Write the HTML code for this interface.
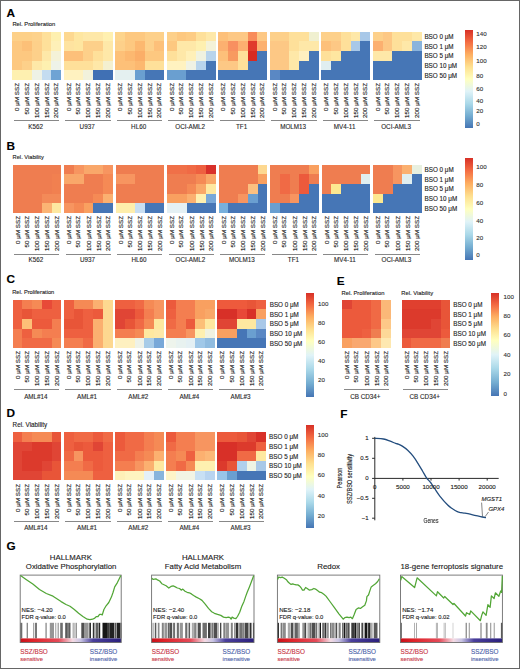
<!DOCTYPE html>
<html><head><meta charset="utf-8"><style>
html,body{margin:0;padding:0;background:#fff}
#root{position:relative;width:520px;height:669px;overflow:hidden;background:#fff;font-family:"Liberation Sans", sans-serif}
.t{position:absolute;white-space:nowrap;-webkit-text-stroke:0.12px currentColor}
.v{position:absolute;right:0;top:0;white-space:nowrap;transform-origin:100% 0;transform:rotate(-90deg);color:#222;-webkit-text-stroke:0.12px currentColor}
.vc{position:absolute;left:0;top:0;white-space:nowrap;transform:translate(-50%,-50%) rotate(-90deg) scaleX(0.8);color:#222;-webkit-text-stroke:0.15px currentColor}
i{display:block}
</style></head><body><div id="root">
<div class="t" style="left:6.40px;top:6.51px;font-size:11.8px;line-height:12px;font-weight:bold;color:#000">A</div>
<div class="t" style="left:12.40px;top:21.12px;font-size:5.8px;line-height:6.96px;color:#222;font-weight:normal;font-style:normal;">Rel. Proliferation</div>
<div style="position:absolute;left:12.40px;top:31.70px;width:48.80px;height:48.40px;display:grid;grid-template-columns:repeat(5,1fr);grid-template-rows:repeat(5,1fr)">
<i style="background:#fdd088"></i>
<i style="background:#fdd088"></i>
<i style="background:#fdd28c"></i>
<i style="background:#fee09a"></i>
<i style="background:#fef0b0"></i>
<i style="background:#fdc880"></i>
<i style="background:#fcc078"></i>
<i style="background:#fdd08a"></i>
<i style="background:#fee09a"></i>
<i style="background:#fef0b8"></i>
<i style="background:#fdc880"></i>
<i style="background:#fdc880"></i>
<i style="background:#fdd08a"></i>
<i style="background:#fee8a8"></i>
<i style="background:#f4f2d8"></i>
<i style="background:#fdc880"></i>
<i style="background:#fdd08a"></i>
<i style="background:#fee8a8"></i>
<i style="background:#fef0b0"></i>
<i style="background:#eef2e8"></i>
<i style="background:#fef0b0"></i>
<i style="background:#fef0b0"></i>
<i style="background:#eef2e6"></i>
<i style="background:#c4dcf0"></i>
<i style="background:#6fa3d4"></i>
</div>
<div style="position:absolute;left:13.33px;top:83.10px;width:0;height:0"><span class="v" style="font-size:6.25px;line-height:7.5px;color:#111">0 μM SSZ</span></div>
<div style="position:absolute;left:23.09px;top:83.10px;width:0;height:0"><span class="v" style="font-size:6.25px;line-height:7.5px;color:#111">50 μM SSZ</span></div>
<div style="position:absolute;left:32.85px;top:83.10px;width:0;height:0"><span class="v" style="font-size:6.25px;line-height:7.5px;color:#111">100 μM SSZ</span></div>
<div style="position:absolute;left:42.61px;top:83.10px;width:0;height:0"><span class="v" style="font-size:6.25px;line-height:7.5px;color:#111">150 μM SSZ</span></div>
<div style="position:absolute;left:52.37px;top:83.10px;width:0;height:0"><span class="v" style="font-size:6.25px;line-height:7.5px;color:#111">200 μM SSZ</span></div>
<div style="position:absolute;left:13.90px;top:120.30px;width:45.30px;height:1px;background:#888"></div>
<div class="t" style="left:-164.40px;width:400px;text-align:center;top:122.92px;font-size:6.3px;line-height:7.56px;color:#2a2a2a;font-weight:normal;font-style:normal;">K562</div>
<div style="position:absolute;left:63.90px;top:31.70px;width:48.80px;height:48.40px;display:grid;grid-template-columns:repeat(5,1fr);grid-template-rows:repeat(5,1fr)">
<i style="background:#fdd890"></i>
<i style="background:#fee6a0"></i>
<i style="background:#fee8a8"></i>
<i style="background:#fee8a8"></i>
<i style="background:#fff0b0"></i>
<i style="background:#fee3a0"></i>
<i style="background:#fee6a0"></i>
<i style="background:#fdd08a"></i>
<i style="background:#fdd08a"></i>
<i style="background:#fee8a8"></i>
<i style="background:#fdc07a"></i>
<i style="background:#fdc07a"></i>
<i style="background:#fdd08a"></i>
<i style="background:#fee09a"></i>
<i style="background:#fee8a8"></i>
<i style="background:#fee09a"></i>
<i style="background:#fee09a"></i>
<i style="background:#fee09a"></i>
<i style="background:#fee8a8"></i>
<i style="background:#f4f0d0"></i>
<i style="background:#fff2c0"></i>
<i style="background:#fff2c0"></i>
<i style="background:#f2f2dc"></i>
<i style="background:#4070b4"></i>
<i style="background:#4070b4"></i>
</div>
<div style="position:absolute;left:64.83px;top:83.10px;width:0;height:0"><span class="v" style="font-size:6.25px;line-height:7.5px;color:#111">0 μM SSZ</span></div>
<div style="position:absolute;left:74.59px;top:83.10px;width:0;height:0"><span class="v" style="font-size:6.25px;line-height:7.5px;color:#111">50 μM SSZ</span></div>
<div style="position:absolute;left:84.35px;top:83.10px;width:0;height:0"><span class="v" style="font-size:6.25px;line-height:7.5px;color:#111">100 μM SSZ</span></div>
<div style="position:absolute;left:94.11px;top:83.10px;width:0;height:0"><span class="v" style="font-size:6.25px;line-height:7.5px;color:#111">150 μM SSZ</span></div>
<div style="position:absolute;left:103.87px;top:83.10px;width:0;height:0"><span class="v" style="font-size:6.25px;line-height:7.5px;color:#111">200 μM SSZ</span></div>
<div style="position:absolute;left:65.40px;top:120.30px;width:45.30px;height:1px;background:#888"></div>
<div class="t" style="left:-112.90px;width:400px;text-align:center;top:122.92px;font-size:6.3px;line-height:7.56px;color:#2a2a2a;font-weight:normal;font-style:normal;">U937</div>
<div style="position:absolute;left:115.40px;top:31.70px;width:48.80px;height:48.40px;display:grid;grid-template-columns:repeat(5,1fr);grid-template-rows:repeat(5,1fr)">
<i style="background:#fdd48c"></i>
<i style="background:#fdc880"></i>
<i style="background:#fdc880"></i>
<i style="background:#fdd08a"></i>
<i style="background:#fdd08a"></i>
<i style="background:#fdd08a"></i>
<i style="background:#fdc880"></i>
<i style="background:#fcb870"></i>
<i style="background:#fdd08a"></i>
<i style="background:#fdc07a"></i>
<i style="background:#fdc078"></i>
<i style="background:#fcb870"></i>
<i style="background:#fbae68"></i>
<i style="background:#fdc880"></i>
<i style="background:#fdc880"></i>
<i style="background:#fdc078"></i>
<i style="background:#fdc078"></i>
<i style="background:#fcb870"></i>
<i style="background:#fee09a"></i>
<i style="background:#fee09a"></i>
<i style="background:#e4f0f0"></i>
<i style="background:#e4f0f0"></i>
<i style="background:#6a9fd0"></i>
<i style="background:#4676b6"></i>
<i style="background:#4676b6"></i>
</div>
<div style="position:absolute;left:116.33px;top:83.10px;width:0;height:0"><span class="v" style="font-size:6.25px;line-height:7.5px;color:#111">0 μM SSZ</span></div>
<div style="position:absolute;left:126.09px;top:83.10px;width:0;height:0"><span class="v" style="font-size:6.25px;line-height:7.5px;color:#111">50 μM SSZ</span></div>
<div style="position:absolute;left:135.85px;top:83.10px;width:0;height:0"><span class="v" style="font-size:6.25px;line-height:7.5px;color:#111">100 μM SSZ</span></div>
<div style="position:absolute;left:145.61px;top:83.10px;width:0;height:0"><span class="v" style="font-size:6.25px;line-height:7.5px;color:#111">150 μM SSZ</span></div>
<div style="position:absolute;left:155.37px;top:83.10px;width:0;height:0"><span class="v" style="font-size:6.25px;line-height:7.5px;color:#111">200 μM SSZ</span></div>
<div style="position:absolute;left:116.90px;top:120.30px;width:45.30px;height:1px;background:#888"></div>
<div class="t" style="left:-61.40px;width:400px;text-align:center;top:122.92px;font-size:6.3px;line-height:7.56px;color:#2a2a2a;font-weight:normal;font-style:normal;">HL60</div>
<div style="position:absolute;left:166.90px;top:31.70px;width:48.80px;height:48.40px;display:grid;grid-template-columns:repeat(5,1fr);grid-template-rows:repeat(5,1fr)">
<i style="background:#fdd08a"></i>
<i style="background:#fdc880"></i>
<i style="background:#fdcc84"></i>
<i style="background:#fee09a"></i>
<i style="background:#fee8a8"></i>
<i style="background:#fdc880"></i>
<i style="background:#fee8a8"></i>
<i style="background:#fee8a8"></i>
<i style="background:#fef0b0"></i>
<i style="background:#f4f2d8"></i>
<i style="background:#fee09a"></i>
<i style="background:#fee8a8"></i>
<i style="background:#fff0b8"></i>
<i style="background:#f0f2e0"></i>
<i style="background:#b8d4ec"></i>
<i style="background:#fff2c0"></i>
<i style="background:#fff2c0"></i>
<i style="background:#f0f2e4"></i>
<i style="background:#b8d4ec"></i>
<i style="background:#4676b6"></i>
<i style="background:#6a9fd0"></i>
<i style="background:#6a9fd0"></i>
<i style="background:#4676b6"></i>
<i style="background:#4676b6"></i>
<i style="background:#4676b6"></i>
</div>
<div style="position:absolute;left:167.83px;top:83.10px;width:0;height:0"><span class="v" style="font-size:6.25px;line-height:7.5px;color:#111">0 μM SSZ</span></div>
<div style="position:absolute;left:177.59px;top:83.10px;width:0;height:0"><span class="v" style="font-size:6.25px;line-height:7.5px;color:#111">50 μM SSZ</span></div>
<div style="position:absolute;left:187.35px;top:83.10px;width:0;height:0"><span class="v" style="font-size:6.25px;line-height:7.5px;color:#111">100 μM SSZ</span></div>
<div style="position:absolute;left:197.11px;top:83.10px;width:0;height:0"><span class="v" style="font-size:6.25px;line-height:7.5px;color:#111">150 μM SSZ</span></div>
<div style="position:absolute;left:206.87px;top:83.10px;width:0;height:0"><span class="v" style="font-size:6.25px;line-height:7.5px;color:#111">200 μM SSZ</span></div>
<div style="position:absolute;left:168.40px;top:120.30px;width:45.30px;height:1px;background:#888"></div>
<div class="t" style="left:-9.90px;width:400px;text-align:center;top:122.92px;font-size:6.3px;line-height:7.56px;color:#2a2a2a;font-weight:normal;font-style:normal;">OCI-AML2</div>
<div style="position:absolute;left:218.40px;top:31.70px;width:48.80px;height:48.40px;display:grid;grid-template-columns:repeat(5,1fr);grid-template-rows:repeat(5,1fr)">
<i style="background:#fdc07a"></i>
<i style="background:#fdc885"></i>
<i style="background:#fdc885"></i>
<i style="background:#f88c5a"></i>
<i style="background:#fdc885"></i>
<i style="background:#fcb070"></i>
<i style="background:#f89060"></i>
<i style="background:#fdb070"></i>
<i style="background:#e03a2c"></i>
<i style="background:#fcb070"></i>
<i style="background:#fdc07a"></i>
<i style="background:#f89a60"></i>
<i style="background:#fee09a"></i>
<i style="background:#d82a20"></i>
<i style="background:#4676b6"></i>
<i style="background:#fdc885"></i>
<i style="background:#fdc885"></i>
<i style="background:#fee09a"></i>
<i style="background:#4676b6"></i>
<i style="background:#4676b6"></i>
<i style="background:#4676b6"></i>
<i style="background:#4676b6"></i>
<i style="background:#4676b6"></i>
<i style="background:#4676b6"></i>
<i style="background:#4676b6"></i>
</div>
<div style="position:absolute;left:219.33px;top:83.10px;width:0;height:0"><span class="v" style="font-size:6.25px;line-height:7.5px;color:#111">0 μM SSZ</span></div>
<div style="position:absolute;left:229.09px;top:83.10px;width:0;height:0"><span class="v" style="font-size:6.25px;line-height:7.5px;color:#111">50 μM SSZ</span></div>
<div style="position:absolute;left:238.85px;top:83.10px;width:0;height:0"><span class="v" style="font-size:6.25px;line-height:7.5px;color:#111">100 μM SSZ</span></div>
<div style="position:absolute;left:248.61px;top:83.10px;width:0;height:0"><span class="v" style="font-size:6.25px;line-height:7.5px;color:#111">150 μM SSZ</span></div>
<div style="position:absolute;left:258.37px;top:83.10px;width:0;height:0"><span class="v" style="font-size:6.25px;line-height:7.5px;color:#111">200 μM SSZ</span></div>
<div style="position:absolute;left:219.90px;top:120.30px;width:45.30px;height:1px;background:#888"></div>
<div class="t" style="left:41.60px;width:400px;text-align:center;top:122.92px;font-size:6.3px;line-height:7.56px;color:#2a2a2a;font-weight:normal;font-style:normal;">TF1</div>
<div style="position:absolute;left:269.90px;top:31.70px;width:48.80px;height:48.40px;display:grid;grid-template-columns:repeat(5,1fr);grid-template-rows:repeat(5,1fr)">
<i style="background:#fdd08a"></i>
<i style="background:#fdd08a"></i>
<i style="background:#fee09a"></i>
<i style="background:#fee09a"></i>
<i style="background:#f0f0d0"></i>
<i style="background:#fdc885"></i>
<i style="background:#fdc885"></i>
<i style="background:#fee09a"></i>
<i style="background:#fee8a8"></i>
<i style="background:#fee8a8"></i>
<i style="background:#fdc885"></i>
<i style="background:#fdc885"></i>
<i style="background:#fee8a8"></i>
<i style="background:#fff0c0"></i>
<i style="background:#4676b6"></i>
<i style="background:#fdc885"></i>
<i style="background:#fdc885"></i>
<i style="background:#fee8a8"></i>
<i style="background:#4676b6"></i>
<i style="background:#4676b6"></i>
<i style="background:#5a88c4"></i>
<i style="background:#4676b6"></i>
<i style="background:#4676b6"></i>
<i style="background:#4676b6"></i>
<i style="background:#4676b6"></i>
</div>
<div style="position:absolute;left:270.83px;top:83.10px;width:0;height:0"><span class="v" style="font-size:6.25px;line-height:7.5px;color:#111">0 μM SSZ</span></div>
<div style="position:absolute;left:280.59px;top:83.10px;width:0;height:0"><span class="v" style="font-size:6.25px;line-height:7.5px;color:#111">50 μM SSZ</span></div>
<div style="position:absolute;left:290.35px;top:83.10px;width:0;height:0"><span class="v" style="font-size:6.25px;line-height:7.5px;color:#111">100 μM SSZ</span></div>
<div style="position:absolute;left:300.11px;top:83.10px;width:0;height:0"><span class="v" style="font-size:6.25px;line-height:7.5px;color:#111">150 μM SSZ</span></div>
<div style="position:absolute;left:309.87px;top:83.10px;width:0;height:0"><span class="v" style="font-size:6.25px;line-height:7.5px;color:#111">200 μM SSZ</span></div>
<div style="position:absolute;left:271.40px;top:120.30px;width:45.30px;height:1px;background:#888"></div>
<div class="t" style="left:93.10px;width:400px;text-align:center;top:122.92px;font-size:6.3px;line-height:7.56px;color:#2a2a2a;font-weight:normal;font-style:normal;">MOLM13</div>
<div style="position:absolute;left:321.40px;top:31.70px;width:48.80px;height:48.40px;display:grid;grid-template-columns:repeat(5,1fr);grid-template-rows:repeat(5,1fr)">
<i style="background:#fdd08a"></i>
<i style="background:#fdd08a"></i>
<i style="background:#fee09a"></i>
<i style="background:#fee8a8"></i>
<i style="background:#a8c8e8"></i>
<i style="background:#fdc07a"></i>
<i style="background:#fdc885"></i>
<i style="background:#fee09a"></i>
<i style="background:#a8c8e8"></i>
<i style="background:#4676b6"></i>
<i style="background:#fee09a"></i>
<i style="background:#fee6a0"></i>
<i style="background:#4676b6"></i>
<i style="background:#4676b6"></i>
<i style="background:#4676b6"></i>
<i style="background:#e0eef0"></i>
<i style="background:#4676b6"></i>
<i style="background:#4676b6"></i>
<i style="background:#4676b6"></i>
<i style="background:#4676b6"></i>
<i style="background:#4676b6"></i>
<i style="background:#4676b6"></i>
<i style="background:#4676b6"></i>
<i style="background:#4676b6"></i>
<i style="background:#4676b6"></i>
</div>
<div style="position:absolute;left:322.33px;top:83.10px;width:0;height:0"><span class="v" style="font-size:6.25px;line-height:7.5px;color:#111">0 μM SSZ</span></div>
<div style="position:absolute;left:332.09px;top:83.10px;width:0;height:0"><span class="v" style="font-size:6.25px;line-height:7.5px;color:#111">50 μM SSZ</span></div>
<div style="position:absolute;left:341.85px;top:83.10px;width:0;height:0"><span class="v" style="font-size:6.25px;line-height:7.5px;color:#111">100 μM SSZ</span></div>
<div style="position:absolute;left:351.61px;top:83.10px;width:0;height:0"><span class="v" style="font-size:6.25px;line-height:7.5px;color:#111">150 μM SSZ</span></div>
<div style="position:absolute;left:361.37px;top:83.10px;width:0;height:0"><span class="v" style="font-size:6.25px;line-height:7.5px;color:#111">200 μM SSZ</span></div>
<div style="position:absolute;left:322.90px;top:120.30px;width:45.30px;height:1px;background:#888"></div>
<div class="t" style="left:144.60px;width:400px;text-align:center;top:122.92px;font-size:6.3px;line-height:7.56px;color:#2a2a2a;font-weight:normal;font-style:normal;">MV4-11</div>
<div style="position:absolute;left:372.90px;top:31.70px;width:48.80px;height:48.40px;display:grid;grid-template-columns:repeat(5,1fr);grid-template-rows:repeat(5,1fr)">
<i style="background:#fdd08a"></i>
<i style="background:#fdc885"></i>
<i style="background:#fee09a"></i>
<i style="background:#fee09a"></i>
<i style="background:#fee8a8"></i>
<i style="background:#fcb070"></i>
<i style="background:#fdc885"></i>
<i style="background:#fee09a"></i>
<i style="background:#fee8a8"></i>
<i style="background:#8ab4dc"></i>
<i style="background:#fee8a8"></i>
<i style="background:#fee8a8"></i>
<i style="background:#4676b6"></i>
<i style="background:#4676b6"></i>
<i style="background:#4676b6"></i>
<i style="background:#4676b6"></i>
<i style="background:#4676b6"></i>
<i style="background:#4676b6"></i>
<i style="background:#4676b6"></i>
<i style="background:#4676b6"></i>
<i style="background:#4676b6"></i>
<i style="background:#4676b6"></i>
<i style="background:#4676b6"></i>
<i style="background:#4676b6"></i>
<i style="background:#4676b6"></i>
</div>
<div style="position:absolute;left:373.83px;top:83.10px;width:0;height:0"><span class="v" style="font-size:6.25px;line-height:7.5px;color:#111">0 μM SSZ</span></div>
<div style="position:absolute;left:383.59px;top:83.10px;width:0;height:0"><span class="v" style="font-size:6.25px;line-height:7.5px;color:#111">50 μM SSZ</span></div>
<div style="position:absolute;left:393.35px;top:83.10px;width:0;height:0"><span class="v" style="font-size:6.25px;line-height:7.5px;color:#111">100 μM SSZ</span></div>
<div style="position:absolute;left:403.11px;top:83.10px;width:0;height:0"><span class="v" style="font-size:6.25px;line-height:7.5px;color:#111">150 μM SSZ</span></div>
<div style="position:absolute;left:412.87px;top:83.10px;width:0;height:0"><span class="v" style="font-size:6.25px;line-height:7.5px;color:#111">200 μM SSZ</span></div>
<div style="position:absolute;left:374.40px;top:120.30px;width:45.30px;height:1px;background:#888"></div>
<div class="t" style="left:196.10px;width:400px;text-align:center;top:122.92px;font-size:6.3px;line-height:7.56px;color:#2a2a2a;font-weight:normal;font-style:normal;">OCI-AML3</div>
<div class="t" style="left:424.40px;top:33.06px;font-size:6.3px;line-height:7.56px;color:#222;font-weight:normal;font-style:normal;">BSO 0 μM</div>
<div class="t" style="left:424.40px;top:42.74px;font-size:6.3px;line-height:7.56px;color:#222;font-weight:normal;font-style:normal;">BSO 1 μM</div>
<div class="t" style="left:424.40px;top:52.42px;font-size:6.3px;line-height:7.56px;color:#222;font-weight:normal;font-style:normal;">BSO 5 μM</div>
<div class="t" style="left:424.40px;top:62.10px;font-size:6.3px;line-height:7.56px;color:#222;font-weight:normal;font-style:normal;">BSO 10 μM</div>
<div class="t" style="left:424.40px;top:71.78px;font-size:6.3px;line-height:7.56px;color:#222;font-weight:normal;font-style:normal;">BSO 50 μM</div>
<div style="position:absolute;left:464.80px;top:29.50px;width:8.4px;height:98.10px;background:linear-gradient(#d73027,#f46d43,#fdae61,#fee090,#ffffbf,#e0f3f8,#abd9e9,#74add1,#4575b4)"></div>
<div class="t" style="left:476.30px;top:29.88px;font-size:6.2px;line-height:7.4399999999999995px;color:#333;font-weight:normal;font-style:normal;">140</div>
<div class="t" style="left:476.30px;top:43.08px;font-size:6.2px;line-height:7.4399999999999995px;color:#333;font-weight:normal;font-style:normal;">120</div>
<div class="t" style="left:476.30px;top:57.48px;font-size:6.2px;line-height:7.4399999999999995px;color:#333;font-weight:normal;font-style:normal;">100</div>
<div class="t" style="left:476.30px;top:71.58px;font-size:6.2px;line-height:7.4399999999999995px;color:#333;font-weight:normal;font-style:normal;">80</div>
<div class="t" style="left:476.30px;top:84.88px;font-size:6.2px;line-height:7.4399999999999995px;color:#333;font-weight:normal;font-style:normal;">60</div>
<div class="t" style="left:476.30px;top:96.78px;font-size:6.2px;line-height:7.4399999999999995px;color:#333;font-weight:normal;font-style:normal;">40</div>
<div class="t" style="left:476.30px;top:107.48px;font-size:6.2px;line-height:7.4399999999999995px;color:#333;font-weight:normal;font-style:normal;">20</div>
<div class="t" style="left:476.30px;top:119.98px;font-size:6.2px;line-height:7.4399999999999995px;color:#333;font-weight:normal;font-style:normal;">0</div>
<div class="t" style="left:6.60px;top:139.51px;font-size:11.8px;line-height:12px;font-weight:bold;color:#000">B</div>
<div class="t" style="left:12.60px;top:154.38px;font-size:5.7px;line-height:6.84px;color:#222;font-weight:normal;font-style:normal;">Rel. Viability</div>
<div style="position:absolute;left:12.70px;top:164.50px;width:48.80px;height:48.40px;display:grid;grid-template-columns:repeat(5,1fr);grid-template-rows:repeat(5,1fr)">
<i style="background:#ef7d50"></i>
<i style="background:#ef7d50"></i>
<i style="background:#ef7d50"></i>
<i style="background:#ef7d50"></i>
<i style="background:#ef7d50"></i>
<i style="background:#ef7d50"></i>
<i style="background:#ef7d50"></i>
<i style="background:#ef7d50"></i>
<i style="background:#ef7d50"></i>
<i style="background:#f18050"></i>
<i style="background:#ef7d50"></i>
<i style="background:#ef7d50"></i>
<i style="background:#ef7d50"></i>
<i style="background:#ef7d50"></i>
<i style="background:#f18050"></i>
<i style="background:#ef7d50"></i>
<i style="background:#ef7d50"></i>
<i style="background:#ef7d50"></i>
<i style="background:#f38a58"></i>
<i style="background:#f38a58"></i>
<i style="background:#ef7d50"></i>
<i style="background:#ef7d50"></i>
<i style="background:#ef7d50"></i>
<i style="background:#fbb474"></i>
<i style="background:#fde8a0"></i>
</div>
<div style="position:absolute;left:13.63px;top:216.00px;width:0;height:0"><span class="v" style="font-size:6.25px;line-height:7.5px;color:#111">0 μM SSZ</span></div>
<div style="position:absolute;left:23.39px;top:216.00px;width:0;height:0"><span class="v" style="font-size:6.25px;line-height:7.5px;color:#111">50 μM SSZ</span></div>
<div style="position:absolute;left:33.15px;top:216.00px;width:0;height:0"><span class="v" style="font-size:6.25px;line-height:7.5px;color:#111">100 μM SSZ</span></div>
<div style="position:absolute;left:42.91px;top:216.00px;width:0;height:0"><span class="v" style="font-size:6.25px;line-height:7.5px;color:#111">150 μM SSZ</span></div>
<div style="position:absolute;left:52.67px;top:216.00px;width:0;height:0"><span class="v" style="font-size:6.25px;line-height:7.5px;color:#111">200 μM SSZ</span></div>
<div style="position:absolute;left:14.20px;top:253.50px;width:45.30px;height:1px;background:#888"></div>
<div class="t" style="left:-164.10px;width:400px;text-align:center;top:256.22px;font-size:6.3px;line-height:7.56px;color:#2a2a2a;font-weight:normal;font-style:normal;">K562</div>
<div style="position:absolute;left:64.20px;top:164.50px;width:48.80px;height:48.40px;display:grid;grid-template-columns:repeat(5,1fr);grid-template-rows:repeat(5,1fr)">
<i style="background:#ef7d50"></i>
<i style="background:#f79560"></i>
<i style="background:#f9a76a"></i>
<i style="background:#f9a76a"></i>
<i style="background:#f79560"></i>
<i style="background:#f9a76a"></i>
<i style="background:#f9a76a"></i>
<i style="background:#ef7d50"></i>
<i style="background:#ef7d50"></i>
<i style="background:#f58a55"></i>
<i style="background:#ef7d50"></i>
<i style="background:#ef7d50"></i>
<i style="background:#ef7d50"></i>
<i style="background:#ef7d50"></i>
<i style="background:#f58a55"></i>
<i style="background:#ef7d50"></i>
<i style="background:#ef7d50"></i>
<i style="background:#ef7d50"></i>
<i style="background:#f58a55"></i>
<i style="background:#fbb070"></i>
<i style="background:#f79560"></i>
<i style="background:#f58a55"></i>
<i style="background:#f9a060"></i>
<i style="background:#4676b6"></i>
<i style="background:#4676b6"></i>
</div>
<div style="position:absolute;left:65.13px;top:216.00px;width:0;height:0"><span class="v" style="font-size:6.25px;line-height:7.5px;color:#111">0 μM SSZ</span></div>
<div style="position:absolute;left:74.89px;top:216.00px;width:0;height:0"><span class="v" style="font-size:6.25px;line-height:7.5px;color:#111">50 μM SSZ</span></div>
<div style="position:absolute;left:84.65px;top:216.00px;width:0;height:0"><span class="v" style="font-size:6.25px;line-height:7.5px;color:#111">100 μM SSZ</span></div>
<div style="position:absolute;left:94.41px;top:216.00px;width:0;height:0"><span class="v" style="font-size:6.25px;line-height:7.5px;color:#111">150 μM SSZ</span></div>
<div style="position:absolute;left:104.17px;top:216.00px;width:0;height:0"><span class="v" style="font-size:6.25px;line-height:7.5px;color:#111">200 μM SSZ</span></div>
<div style="position:absolute;left:65.70px;top:253.50px;width:45.30px;height:1px;background:#888"></div>
<div class="t" style="left:-112.60px;width:400px;text-align:center;top:256.22px;font-size:6.3px;line-height:7.56px;color:#2a2a2a;font-weight:normal;font-style:normal;">U937</div>
<div style="position:absolute;left:115.70px;top:164.50px;width:48.80px;height:48.40px;display:grid;grid-template-columns:repeat(5,1fr);grid-template-rows:repeat(5,1fr)">
<i style="background:#ef7d50"></i>
<i style="background:#ef7d50"></i>
<i style="background:#ef7d50"></i>
<i style="background:#ef7d50"></i>
<i style="background:#ef7d50"></i>
<i style="background:#f79560"></i>
<i style="background:#f79560"></i>
<i style="background:#ef7d50"></i>
<i style="background:#ef7d50"></i>
<i style="background:#ef7d50"></i>
<i style="background:#ef7d50"></i>
<i style="background:#ef7d50"></i>
<i style="background:#ef7d50"></i>
<i style="background:#ef7d50"></i>
<i style="background:#ef7d50"></i>
<i style="background:#ef7d50"></i>
<i style="background:#ef7d50"></i>
<i style="background:#ef7d50"></i>
<i style="background:#ef7d50"></i>
<i style="background:#ef7d50"></i>
<i style="background:#feeeac"></i>
<i style="background:#feeeac"></i>
<i style="background:#c8def2"></i>
<i style="background:#4676b6"></i>
<i style="background:#4676b6"></i>
</div>
<div style="position:absolute;left:116.63px;top:216.00px;width:0;height:0"><span class="v" style="font-size:6.25px;line-height:7.5px;color:#111">0 μM SSZ</span></div>
<div style="position:absolute;left:126.39px;top:216.00px;width:0;height:0"><span class="v" style="font-size:6.25px;line-height:7.5px;color:#111">50 μM SSZ</span></div>
<div style="position:absolute;left:136.15px;top:216.00px;width:0;height:0"><span class="v" style="font-size:6.25px;line-height:7.5px;color:#111">100 μM SSZ</span></div>
<div style="position:absolute;left:145.91px;top:216.00px;width:0;height:0"><span class="v" style="font-size:6.25px;line-height:7.5px;color:#111">150 μM SSZ</span></div>
<div style="position:absolute;left:155.67px;top:216.00px;width:0;height:0"><span class="v" style="font-size:6.25px;line-height:7.5px;color:#111">200 μM SSZ</span></div>
<div style="position:absolute;left:117.20px;top:253.50px;width:45.30px;height:1px;background:#888"></div>
<div class="t" style="left:-61.10px;width:400px;text-align:center;top:256.22px;font-size:6.3px;line-height:7.56px;color:#2a2a2a;font-weight:normal;font-style:normal;">HL60</div>
<div style="position:absolute;left:167.20px;top:164.50px;width:48.80px;height:48.40px;display:grid;grid-template-columns:repeat(5,1fr);grid-template-rows:repeat(5,1fr)">
<i style="background:#f07048"></i>
<i style="background:#f07048"></i>
<i style="background:#f06a45"></i>
<i style="background:#ee6040"></i>
<i style="background:#d8302a"></i>
<i style="background:#ef7d50"></i>
<i style="background:#ef7d50"></i>
<i style="background:#ef7d50"></i>
<i style="background:#f58a55"></i>
<i style="background:#f9a868"></i>
<i style="background:#ef7d50"></i>
<i style="background:#ef7d50"></i>
<i style="background:#f58a55"></i>
<i style="background:#f9a868"></i>
<i style="background:#fee8a0"></i>
<i style="background:#f9a060"></i>
<i style="background:#f9a060"></i>
<i style="background:#fbb070"></i>
<i style="background:#fef0b0"></i>
<i style="background:#78a8d8"></i>
<i style="background:#e4f0f4"></i>
<i style="background:#e4f0f4"></i>
<i style="background:#4676b6"></i>
<i style="background:#4676b6"></i>
<i style="background:#4676b6"></i>
</div>
<div style="position:absolute;left:168.13px;top:216.00px;width:0;height:0"><span class="v" style="font-size:6.25px;line-height:7.5px;color:#111">0 μM SSZ</span></div>
<div style="position:absolute;left:177.89px;top:216.00px;width:0;height:0"><span class="v" style="font-size:6.25px;line-height:7.5px;color:#111">50 μM SSZ</span></div>
<div style="position:absolute;left:187.65px;top:216.00px;width:0;height:0"><span class="v" style="font-size:6.25px;line-height:7.5px;color:#111">100 μM SSZ</span></div>
<div style="position:absolute;left:197.41px;top:216.00px;width:0;height:0"><span class="v" style="font-size:6.25px;line-height:7.5px;color:#111">150 μM SSZ</span></div>
<div style="position:absolute;left:207.17px;top:216.00px;width:0;height:0"><span class="v" style="font-size:6.25px;line-height:7.5px;color:#111">200 μM SSZ</span></div>
<div style="position:absolute;left:168.70px;top:253.50px;width:45.30px;height:1px;background:#888"></div>
<div class="t" style="left:-9.60px;width:400px;text-align:center;top:256.22px;font-size:6.3px;line-height:7.56px;color:#2a2a2a;font-weight:normal;font-style:normal;">OCI-AML2</div>
<div style="position:absolute;left:218.70px;top:164.50px;width:48.80px;height:48.40px;display:grid;grid-template-columns:repeat(5,1fr);grid-template-rows:repeat(5,1fr)">
<i style="background:#ef7d50"></i>
<i style="background:#ef7d50"></i>
<i style="background:#ef7d50"></i>
<i style="background:#ef7d50"></i>
<i style="background:#fdd890"></i>
<i style="background:#ef7d50"></i>
<i style="background:#ef7d50"></i>
<i style="background:#ef7d50"></i>
<i style="background:#ef7d50"></i>
<i style="background:#f9a060"></i>
<i style="background:#ef7d50"></i>
<i style="background:#ef7d50"></i>
<i style="background:#ef7d50"></i>
<i style="background:#fbc080"></i>
<i style="background:#4676b6"></i>
<i style="background:#ef7d50"></i>
<i style="background:#ef7d50"></i>
<i style="background:#f79560"></i>
<i style="background:#6a9fd0"></i>
<i style="background:#4676b6"></i>
<i style="background:#78b0dc"></i>
<i style="background:#4676b6"></i>
<i style="background:#4676b6"></i>
<i style="background:#4676b6"></i>
<i style="background:#4676b6"></i>
</div>
<div style="position:absolute;left:219.63px;top:216.00px;width:0;height:0"><span class="v" style="font-size:6.25px;line-height:7.5px;color:#111">0 μM SSZ</span></div>
<div style="position:absolute;left:229.39px;top:216.00px;width:0;height:0"><span class="v" style="font-size:6.25px;line-height:7.5px;color:#111">50 μM SSZ</span></div>
<div style="position:absolute;left:239.15px;top:216.00px;width:0;height:0"><span class="v" style="font-size:6.25px;line-height:7.5px;color:#111">100 μM SSZ</span></div>
<div style="position:absolute;left:248.91px;top:216.00px;width:0;height:0"><span class="v" style="font-size:6.25px;line-height:7.5px;color:#111">150 μM SSZ</span></div>
<div style="position:absolute;left:258.67px;top:216.00px;width:0;height:0"><span class="v" style="font-size:6.25px;line-height:7.5px;color:#111">200 μM SSZ</span></div>
<div style="position:absolute;left:220.20px;top:253.50px;width:45.30px;height:1px;background:#888"></div>
<div class="t" style="left:41.90px;width:400px;text-align:center;top:256.22px;font-size:6.3px;line-height:7.56px;color:#2a2a2a;font-weight:normal;font-style:normal;">MOLM13</div>
<div style="position:absolute;left:270.20px;top:164.50px;width:48.80px;height:48.40px;display:grid;grid-template-columns:repeat(5,1fr);grid-template-rows:repeat(5,1fr)">
<i style="background:#ef7d50"></i>
<i style="background:#ef7d50"></i>
<i style="background:#ef7d50"></i>
<i style="background:#ef7d50"></i>
<i style="background:#f9a060"></i>
<i style="background:#ef7d50"></i>
<i style="background:#f06a45"></i>
<i style="background:#ef7d50"></i>
<i style="background:#ec5a3c"></i>
<i style="background:#ef7d50"></i>
<i style="background:#ef7d50"></i>
<i style="background:#f06a45"></i>
<i style="background:#ef7d50"></i>
<i style="background:#ec5a3c"></i>
<i style="background:#4676b6"></i>
<i style="background:#ef7d50"></i>
<i style="background:#ef7d50"></i>
<i style="background:#f79560"></i>
<i style="background:#4676b6"></i>
<i style="background:#4676b6"></i>
<i style="background:#6a9fd0"></i>
<i style="background:#4676b6"></i>
<i style="background:#4676b6"></i>
<i style="background:#4676b6"></i>
<i style="background:#4676b6"></i>
</div>
<div style="position:absolute;left:271.13px;top:216.00px;width:0;height:0"><span class="v" style="font-size:6.25px;line-height:7.5px;color:#111">0 μM SSZ</span></div>
<div style="position:absolute;left:280.89px;top:216.00px;width:0;height:0"><span class="v" style="font-size:6.25px;line-height:7.5px;color:#111">50 μM SSZ</span></div>
<div style="position:absolute;left:290.65px;top:216.00px;width:0;height:0"><span class="v" style="font-size:6.25px;line-height:7.5px;color:#111">100 μM SSZ</span></div>
<div style="position:absolute;left:300.41px;top:216.00px;width:0;height:0"><span class="v" style="font-size:6.25px;line-height:7.5px;color:#111">150 μM SSZ</span></div>
<div style="position:absolute;left:310.17px;top:216.00px;width:0;height:0"><span class="v" style="font-size:6.25px;line-height:7.5px;color:#111">200 μM SSZ</span></div>
<div style="position:absolute;left:271.70px;top:253.50px;width:45.30px;height:1px;background:#888"></div>
<div class="t" style="left:93.40px;width:400px;text-align:center;top:256.22px;font-size:6.3px;line-height:7.56px;color:#2a2a2a;font-weight:normal;font-style:normal;">TF1</div>
<div style="position:absolute;left:321.70px;top:164.50px;width:48.80px;height:48.40px;display:grid;grid-template-columns:repeat(5,1fr);grid-template-rows:repeat(5,1fr)">
<i style="background:#ef7d50"></i>
<i style="background:#ef7d50"></i>
<i style="background:#ef7d50"></i>
<i style="background:#ef7d50"></i>
<i style="background:#ef7d50"></i>
<i style="background:#ef7d50"></i>
<i style="background:#ef7d50"></i>
<i style="background:#ef7d50"></i>
<i style="background:#ef7d50"></i>
<i style="background:#e0eef0"></i>
<i style="background:#ef7d50"></i>
<i style="background:#fde890"></i>
<i style="background:#4676b6"></i>
<i style="background:#4676b6"></i>
<i style="background:#4676b6"></i>
<i style="background:#4676b6"></i>
<i style="background:#4676b6"></i>
<i style="background:#4676b6"></i>
<i style="background:#4676b6"></i>
<i style="background:#4676b6"></i>
<i style="background:#4676b6"></i>
<i style="background:#4676b6"></i>
<i style="background:#4676b6"></i>
<i style="background:#4676b6"></i>
<i style="background:#4676b6"></i>
</div>
<div style="position:absolute;left:322.63px;top:216.00px;width:0;height:0"><span class="v" style="font-size:6.25px;line-height:7.5px;color:#111">0 μM SSZ</span></div>
<div style="position:absolute;left:332.39px;top:216.00px;width:0;height:0"><span class="v" style="font-size:6.25px;line-height:7.5px;color:#111">50 μM SSZ</span></div>
<div style="position:absolute;left:342.15px;top:216.00px;width:0;height:0"><span class="v" style="font-size:6.25px;line-height:7.5px;color:#111">100 μM SSZ</span></div>
<div style="position:absolute;left:351.91px;top:216.00px;width:0;height:0"><span class="v" style="font-size:6.25px;line-height:7.5px;color:#111">150 μM SSZ</span></div>
<div style="position:absolute;left:361.67px;top:216.00px;width:0;height:0"><span class="v" style="font-size:6.25px;line-height:7.5px;color:#111">200 μM SSZ</span></div>
<div style="position:absolute;left:323.20px;top:253.50px;width:45.30px;height:1px;background:#888"></div>
<div class="t" style="left:144.90px;width:400px;text-align:center;top:256.22px;font-size:6.3px;line-height:7.56px;color:#2a2a2a;font-weight:normal;font-style:normal;">MV4-11</div>
<div style="position:absolute;left:373.20px;top:164.50px;width:48.80px;height:48.40px;display:grid;grid-template-columns:repeat(5,1fr);grid-template-rows:repeat(5,1fr)">
<i style="background:#ef7d50"></i>
<i style="background:#ef7d50"></i>
<i style="background:#f79560"></i>
<i style="background:#fbb070"></i>
<i style="background:#e8f0e0"></i>
<i style="background:#ef7d50"></i>
<i style="background:#ef7d50"></i>
<i style="background:#f79560"></i>
<i style="background:#e0eef0"></i>
<i style="background:#4676b6"></i>
<i style="background:#ef7d50"></i>
<i style="background:#ef7d50"></i>
<i style="background:#4676b6"></i>
<i style="background:#4676b6"></i>
<i style="background:#4676b6"></i>
<i style="background:#fde890"></i>
<i style="background:#4676b6"></i>
<i style="background:#4676b6"></i>
<i style="background:#4676b6"></i>
<i style="background:#4676b6"></i>
<i style="background:#4676b6"></i>
<i style="background:#4676b6"></i>
<i style="background:#4676b6"></i>
<i style="background:#4676b6"></i>
<i style="background:#4676b6"></i>
</div>
<div style="position:absolute;left:374.13px;top:216.00px;width:0;height:0"><span class="v" style="font-size:6.25px;line-height:7.5px;color:#111">0 μM SSZ</span></div>
<div style="position:absolute;left:383.89px;top:216.00px;width:0;height:0"><span class="v" style="font-size:6.25px;line-height:7.5px;color:#111">50 μM SSZ</span></div>
<div style="position:absolute;left:393.65px;top:216.00px;width:0;height:0"><span class="v" style="font-size:6.25px;line-height:7.5px;color:#111">100 μM SSZ</span></div>
<div style="position:absolute;left:403.41px;top:216.00px;width:0;height:0"><span class="v" style="font-size:6.25px;line-height:7.5px;color:#111">150 μM SSZ</span></div>
<div style="position:absolute;left:413.17px;top:216.00px;width:0;height:0"><span class="v" style="font-size:6.25px;line-height:7.5px;color:#111">200 μM SSZ</span></div>
<div style="position:absolute;left:374.70px;top:253.50px;width:45.30px;height:1px;background:#888"></div>
<div class="t" style="left:196.40px;width:400px;text-align:center;top:256.22px;font-size:6.3px;line-height:7.56px;color:#2a2a2a;font-weight:normal;font-style:normal;">OCI-AML3</div>
<div class="t" style="left:424.50px;top:165.86px;font-size:6.3px;line-height:7.56px;color:#222;font-weight:normal;font-style:normal;">BSO 0 μM</div>
<div class="t" style="left:424.50px;top:175.54px;font-size:6.3px;line-height:7.56px;color:#222;font-weight:normal;font-style:normal;">BSO 1 μM</div>
<div class="t" style="left:424.50px;top:185.22px;font-size:6.3px;line-height:7.56px;color:#222;font-weight:normal;font-style:normal;">BSO 5 μM</div>
<div class="t" style="left:424.50px;top:194.90px;font-size:6.3px;line-height:7.56px;color:#222;font-weight:normal;font-style:normal;">BSO 10 μM</div>
<div class="t" style="left:424.50px;top:204.58px;font-size:6.3px;line-height:7.56px;color:#222;font-weight:normal;font-style:normal;">BSO 50 μM</div>
<div style="position:absolute;left:464.70px;top:157.60px;width:8.4px;height:102.80px;background:linear-gradient(#d73027,#f46d43,#fdae61,#fee090,#ffffbf,#e0f3f8,#abd9e9,#74add1,#4575b4)"></div>
<div class="t" style="left:476.30px;top:163.48px;font-size:6.2px;line-height:7.4399999999999995px;color:#333;font-weight:normal;font-style:normal;">100</div>
<div class="t" style="left:476.30px;top:181.28px;font-size:6.2px;line-height:7.4399999999999995px;color:#333;font-weight:normal;font-style:normal;">80</div>
<div class="t" style="left:476.30px;top:198.98px;font-size:6.2px;line-height:7.4399999999999995px;color:#333;font-weight:normal;font-style:normal;">60</div>
<div class="t" style="left:476.30px;top:216.68px;font-size:6.2px;line-height:7.4399999999999995px;color:#333;font-weight:normal;font-style:normal;">40</div>
<div class="t" style="left:476.30px;top:234.08px;font-size:6.2px;line-height:7.4399999999999995px;color:#333;font-weight:normal;font-style:normal;">20</div>
<div class="t" style="left:476.30px;top:251.28px;font-size:6.2px;line-height:7.4399999999999995px;color:#333;font-weight:normal;font-style:normal;">0</div>
<div class="t" style="left:6.60px;top:272.51px;font-size:11.8px;line-height:12px;font-weight:bold;color:#000">C</div>
<div class="t" style="left:12.20px;top:289.38px;font-size:5.7px;line-height:6.84px;color:#222;font-weight:normal;font-style:normal;">Rel. Proliferation</div>
<div style="position:absolute;left:12.70px;top:299.50px;width:48.80px;height:48.40px;display:grid;grid-template-columns:repeat(5,1fr);grid-template-rows:repeat(5,1fr)">
<i style="background:#ee6040"></i>
<i style="background:#f47e50"></i>
<i style="background:#f58a55"></i>
<i style="background:#e84a38"></i>
<i style="background:#ee6040"></i>
<i style="background:#ee6040"></i>
<i style="background:#e85538"></i>
<i style="background:#ee6040"></i>
<i style="background:#ee6040"></i>
<i style="background:#ee6040"></i>
<i style="background:#ee6040"></i>
<i style="background:#fdc078"></i>
<i style="background:#ec5a3c"></i>
<i style="background:#ec5a3c"></i>
<i style="background:#f47e50"></i>
<i style="background:#f47e50"></i>
<i style="background:#ee6040"></i>
<i style="background:#f58a55"></i>
<i style="background:#f47e50"></i>
<i style="background:#f47e50"></i>
<i style="background:#f47e50"></i>
<i style="background:#f06a45"></i>
<i style="background:#f06a45"></i>
<i style="background:#f06a45"></i>
<i style="background:#f58a55"></i>
</div>
<div style="position:absolute;left:13.63px;top:350.80px;width:0;height:0"><span class="v" style="font-size:6.25px;line-height:7.5px;color:#111">0 μM SSZ</span></div>
<div style="position:absolute;left:23.39px;top:350.80px;width:0;height:0"><span class="v" style="font-size:6.25px;line-height:7.5px;color:#111">50 μM SSZ</span></div>
<div style="position:absolute;left:33.15px;top:350.80px;width:0;height:0"><span class="v" style="font-size:6.25px;line-height:7.5px;color:#111">100 μM SSZ</span></div>
<div style="position:absolute;left:42.91px;top:350.80px;width:0;height:0"><span class="v" style="font-size:6.25px;line-height:7.5px;color:#111">150 μM SSZ</span></div>
<div style="position:absolute;left:52.67px;top:350.80px;width:0;height:0"><span class="v" style="font-size:6.25px;line-height:7.5px;color:#111">200 μM SSZ</span></div>
<div style="position:absolute;left:14.20px;top:388.70px;width:45.30px;height:1px;background:#888"></div>
<div class="t" style="left:-164.10px;width:400px;text-align:center;top:392.62px;font-size:6.3px;line-height:7.56px;color:#2a2a2a;font-weight:normal;font-style:normal;">AML#14</div>
<div style="position:absolute;left:63.85px;top:299.50px;width:48.80px;height:48.40px;display:grid;grid-template-columns:repeat(5,1fr);grid-template-rows:repeat(5,1fr)">
<i style="background:#ee6040"></i>
<i style="background:#f58a55"></i>
<i style="background:#f58a55"></i>
<i style="background:#fbb070"></i>
<i style="background:#fdd890"></i>
<i style="background:#ee6040"></i>
<i style="background:#e85538"></i>
<i style="background:#ee6040"></i>
<i style="background:#ec5a3c"></i>
<i style="background:#fdd890"></i>
<i style="background:#e85538"></i>
<i style="background:#e85538"></i>
<i style="background:#ee6040"></i>
<i style="background:#fbb070"></i>
<i style="background:#fdd890"></i>
<i style="background:#ee6040"></i>
<i style="background:#ee6040"></i>
<i style="background:#ee6040"></i>
<i style="background:#fbb070"></i>
<i style="background:#fdd890"></i>
<i style="background:#f47e50"></i>
<i style="background:#f47e50"></i>
<i style="background:#f06a45"></i>
<i style="background:#fbb070"></i>
<i style="background:#fdd890"></i>
</div>
<div style="position:absolute;left:64.78px;top:350.80px;width:0;height:0"><span class="v" style="font-size:6.25px;line-height:7.5px;color:#111">0 μM SSZ</span></div>
<div style="position:absolute;left:74.54px;top:350.80px;width:0;height:0"><span class="v" style="font-size:6.25px;line-height:7.5px;color:#111">50 μM SSZ</span></div>
<div style="position:absolute;left:84.30px;top:350.80px;width:0;height:0"><span class="v" style="font-size:6.25px;line-height:7.5px;color:#111">100 μM SSZ</span></div>
<div style="position:absolute;left:94.06px;top:350.80px;width:0;height:0"><span class="v" style="font-size:6.25px;line-height:7.5px;color:#111">150 μM SSZ</span></div>
<div style="position:absolute;left:103.82px;top:350.80px;width:0;height:0"><span class="v" style="font-size:6.25px;line-height:7.5px;color:#111">200 μM SSZ</span></div>
<div style="position:absolute;left:65.35px;top:388.70px;width:45.30px;height:1px;background:#888"></div>
<div class="t" style="left:-112.95px;width:400px;text-align:center;top:392.62px;font-size:6.3px;line-height:7.56px;color:#2a2a2a;font-weight:normal;font-style:normal;">AML#1</div>
<div style="position:absolute;left:115.00px;top:299.50px;width:48.80px;height:48.40px;display:grid;grid-template-columns:repeat(5,1fr);grid-template-rows:repeat(5,1fr)">
<i style="background:#ee6040"></i>
<i style="background:#ee6040"></i>
<i style="background:#f06a45"></i>
<i style="background:#f58a55"></i>
<i style="background:#f79560"></i>
<i style="background:#e04535"></i>
<i style="background:#e04535"></i>
<i style="background:#ec5a3c"></i>
<i style="background:#f47e50"></i>
<i style="background:#f79560"></i>
<i style="background:#e04535"></i>
<i style="background:#e85538"></i>
<i style="background:#f06a45"></i>
<i style="background:#f58a55"></i>
<i style="background:#fde8a0"></i>
<i style="background:#f47e50"></i>
<i style="background:#f47e50"></i>
<i style="background:#f58a55"></i>
<i style="background:#fee8a0"></i>
<i style="background:#fee8a8"></i>
<i style="background:#fef0c0"></i>
<i style="background:#fef0c0"></i>
<i style="background:#eef2e8"></i>
<i style="background:#a8cce8"></i>
<i style="background:#78a8d8"></i>
</div>
<div style="position:absolute;left:115.93px;top:350.80px;width:0;height:0"><span class="v" style="font-size:6.25px;line-height:7.5px;color:#111">0 μM SSZ</span></div>
<div style="position:absolute;left:125.69px;top:350.80px;width:0;height:0"><span class="v" style="font-size:6.25px;line-height:7.5px;color:#111">50 μM SSZ</span></div>
<div style="position:absolute;left:135.45px;top:350.80px;width:0;height:0"><span class="v" style="font-size:6.25px;line-height:7.5px;color:#111">100 μM SSZ</span></div>
<div style="position:absolute;left:145.21px;top:350.80px;width:0;height:0"><span class="v" style="font-size:6.25px;line-height:7.5px;color:#111">150 μM SSZ</span></div>
<div style="position:absolute;left:154.97px;top:350.80px;width:0;height:0"><span class="v" style="font-size:6.25px;line-height:7.5px;color:#111">200 μM SSZ</span></div>
<div style="position:absolute;left:116.50px;top:388.70px;width:45.30px;height:1px;background:#888"></div>
<div class="t" style="left:-61.80px;width:400px;text-align:center;top:392.62px;font-size:6.3px;line-height:7.56px;color:#2a2a2a;font-weight:normal;font-style:normal;">AML#2</div>
<div style="position:absolute;left:166.15px;top:299.50px;width:48.80px;height:48.40px;display:grid;grid-template-columns:repeat(5,1fr);grid-template-rows:repeat(5,1fr)">
<i style="background:#ec5a3c"></i>
<i style="background:#f47e50"></i>
<i style="background:#f47e50"></i>
<i style="background:#f9a060"></i>
<i style="background:#f9a060"></i>
<i style="background:#ee6040"></i>
<i style="background:#f47e50"></i>
<i style="background:#f47e50"></i>
<i style="background:#f9a060"></i>
<i style="background:#f9a868"></i>
<i style="background:#f06a45"></i>
<i style="background:#f47e50"></i>
<i style="background:#ec5a3c"></i>
<i style="background:#fcc078"></i>
<i style="background:#fee8a0"></i>
<i style="background:#f47e50"></i>
<i style="background:#f47e50"></i>
<i style="background:#f79560"></i>
<i style="background:#fef0b0"></i>
<i style="background:#f0f2e0"></i>
<i style="background:#eef4ec"></i>
<i style="background:#e8f2f0"></i>
<i style="background:#e4f0f4"></i>
<i style="background:#a0c8e8"></i>
<i style="background:#90bce0"></i>
</div>
<div style="position:absolute;left:167.08px;top:350.80px;width:0;height:0"><span class="v" style="font-size:6.25px;line-height:7.5px;color:#111">0 μM SSZ</span></div>
<div style="position:absolute;left:176.84px;top:350.80px;width:0;height:0"><span class="v" style="font-size:6.25px;line-height:7.5px;color:#111">50 μM SSZ</span></div>
<div style="position:absolute;left:186.60px;top:350.80px;width:0;height:0"><span class="v" style="font-size:6.25px;line-height:7.5px;color:#111">100 μM SSZ</span></div>
<div style="position:absolute;left:196.36px;top:350.80px;width:0;height:0"><span class="v" style="font-size:6.25px;line-height:7.5px;color:#111">150 μM SSZ</span></div>
<div style="position:absolute;left:206.12px;top:350.80px;width:0;height:0"><span class="v" style="font-size:6.25px;line-height:7.5px;color:#111">200 μM SSZ</span></div>
<div style="position:absolute;left:167.65px;top:388.70px;width:45.30px;height:1px;background:#888"></div>
<div class="t" style="left:-10.65px;width:400px;text-align:center;top:392.62px;font-size:6.3px;line-height:7.56px;color:#2a2a2a;font-weight:normal;font-style:normal;">AML#4</div>
<div style="position:absolute;left:217.30px;top:299.50px;width:48.80px;height:48.40px;display:grid;grid-template-columns:repeat(5,1fr);grid-template-rows:repeat(5,1fr)">
<i style="background:#ee5a3c"></i>
<i style="background:#ee5a3c"></i>
<i style="background:#ee5a3c"></i>
<i style="background:#e85538"></i>
<i style="background:#ee6040"></i>
<i style="background:#d83028"></i>
<i style="background:#d83028"></i>
<i style="background:#e84838"></i>
<i style="background:#d83028"></i>
<i style="background:#f9a060"></i>
<i style="background:#e04535"></i>
<i style="background:#e04535"></i>
<i style="background:#fee8a0"></i>
<i style="background:#fee8a0"></i>
<i style="background:#a8c8e8"></i>
<i style="background:#f9a060"></i>
<i style="background:#f9a060"></i>
<i style="background:#4676b6"></i>
<i style="background:#6a9fd0"></i>
<i style="background:#5a88c4"></i>
<i style="background:#4676b6"></i>
<i style="background:#4676b6"></i>
<i style="background:#4676b6"></i>
<i style="background:#4676b6"></i>
<i style="background:#4676b6"></i>
</div>
<div style="position:absolute;left:218.23px;top:350.80px;width:0;height:0"><span class="v" style="font-size:6.25px;line-height:7.5px;color:#111">0 μM SSZ</span></div>
<div style="position:absolute;left:227.99px;top:350.80px;width:0;height:0"><span class="v" style="font-size:6.25px;line-height:7.5px;color:#111">50 μM SSZ</span></div>
<div style="position:absolute;left:237.75px;top:350.80px;width:0;height:0"><span class="v" style="font-size:6.25px;line-height:7.5px;color:#111">100 μM SSZ</span></div>
<div style="position:absolute;left:247.51px;top:350.80px;width:0;height:0"><span class="v" style="font-size:6.25px;line-height:7.5px;color:#111">150 μM SSZ</span></div>
<div style="position:absolute;left:257.27px;top:350.80px;width:0;height:0"><span class="v" style="font-size:6.25px;line-height:7.5px;color:#111">200 μM SSZ</span></div>
<div style="position:absolute;left:218.80px;top:388.70px;width:45.30px;height:1px;background:#888"></div>
<div class="t" style="left:40.50px;width:400px;text-align:center;top:392.62px;font-size:6.3px;line-height:7.56px;color:#2a2a2a;font-weight:normal;font-style:normal;">AML#3</div>
<div class="t" style="left:269.70px;top:300.86px;font-size:6.3px;line-height:7.56px;color:#222;font-weight:normal;font-style:normal;">BSO 0 μM</div>
<div class="t" style="left:269.70px;top:310.54px;font-size:6.3px;line-height:7.56px;color:#222;font-weight:normal;font-style:normal;">BSO 1 μM</div>
<div class="t" style="left:269.70px;top:320.22px;font-size:6.3px;line-height:7.56px;color:#222;font-weight:normal;font-style:normal;">BSO 5 μM</div>
<div class="t" style="left:269.70px;top:329.90px;font-size:6.3px;line-height:7.56px;color:#222;font-weight:normal;font-style:normal;">BSO 10 μM</div>
<div class="t" style="left:269.70px;top:339.58px;font-size:6.3px;line-height:7.56px;color:#222;font-weight:normal;font-style:normal;">BSO 50 μM</div>
<div style="position:absolute;left:305.70px;top:292.90px;width:8.4px;height:104.40px;background:linear-gradient(#d73027 0%,#f46d43 12%,#fdae61 23%,#fee090 35%,#ffffbf 46%,#e0f3f8 60%,#abd9e9 73%,#74add1 87%,#4575b4 100%)"></div>
<div class="t" style="left:318.00px;top:299.68px;font-size:6.2px;line-height:7.4399999999999995px;color:#333;font-weight:normal;font-style:normal;">100</div>
<div class="t" style="left:318.00px;top:318.78px;font-size:6.2px;line-height:7.4399999999999995px;color:#333;font-weight:normal;font-style:normal;">80</div>
<div class="t" style="left:318.00px;top:337.78px;font-size:6.2px;line-height:7.4399999999999995px;color:#333;font-weight:normal;font-style:normal;">60</div>
<div class="t" style="left:318.00px;top:356.88px;font-size:6.2px;line-height:7.4399999999999995px;color:#333;font-weight:normal;font-style:normal;">40</div>
<div class="t" style="left:318.00px;top:376.08px;font-size:6.2px;line-height:7.4399999999999995px;color:#333;font-weight:normal;font-style:normal;">20</div>
<div class="t" style="left:6.60px;top:406.51px;font-size:11.8px;line-height:12px;font-weight:bold;color:#000">D</div>
<div class="t" style="left:12.60px;top:421.12px;font-size:6.3px;line-height:7.56px;color:#222;font-weight:normal;font-style:normal;">Rel. Viability</div>
<div style="position:absolute;left:12.70px;top:432.00px;width:48.80px;height:48.40px;display:grid;grid-template-columns:repeat(5,1fr);grid-template-rows:repeat(5,1fr)">
<i style="background:#ee6040"></i>
<i style="background:#f47e50"></i>
<i style="background:#f58a55"></i>
<i style="background:#f58a55"></i>
<i style="background:#e85538"></i>
<i style="background:#e04535"></i>
<i style="background:#e04535"></i>
<i style="background:#dc3a2c"></i>
<i style="background:#dc3a2c"></i>
<i style="background:#e04535"></i>
<i style="background:#e04535"></i>
<i style="background:#dc3a2c"></i>
<i style="background:#dc3a2c"></i>
<i style="background:#dc3a2c"></i>
<i style="background:#e04535"></i>
<i style="background:#e04535"></i>
<i style="background:#dc3a2c"></i>
<i style="background:#dc3a2c"></i>
<i style="background:#e04535"></i>
<i style="background:#e85538"></i>
<i style="background:#e04535"></i>
<i style="background:#e04535"></i>
<i style="background:#e04535"></i>
<i style="background:#e85538"></i>
<i style="background:#e85538"></i>
</div>
<div style="position:absolute;left:13.63px;top:483.80px;width:0;height:0"><span class="v" style="font-size:6.25px;line-height:7.5px;color:#111">0 μM SSZ</span></div>
<div style="position:absolute;left:23.39px;top:483.80px;width:0;height:0"><span class="v" style="font-size:6.25px;line-height:7.5px;color:#111">50 μM SSZ</span></div>
<div style="position:absolute;left:33.15px;top:483.80px;width:0;height:0"><span class="v" style="font-size:6.25px;line-height:7.5px;color:#111">100 μM SSZ</span></div>
<div style="position:absolute;left:42.91px;top:483.80px;width:0;height:0"><span class="v" style="font-size:6.25px;line-height:7.5px;color:#111">150 μM SSZ</span></div>
<div style="position:absolute;left:52.67px;top:483.80px;width:0;height:0"><span class="v" style="font-size:6.25px;line-height:7.5px;color:#111">200 μM SSZ</span></div>
<div style="position:absolute;left:14.20px;top:520.90px;width:45.30px;height:1px;background:#888"></div>
<div class="t" style="left:-164.10px;width:400px;text-align:center;top:523.82px;font-size:6.3px;line-height:7.56px;color:#2a2a2a;font-weight:normal;font-style:normal;">AML#14</div>
<div style="position:absolute;left:63.85px;top:432.00px;width:48.80px;height:48.40px;display:grid;grid-template-columns:repeat(5,1fr);grid-template-rows:repeat(5,1fr)">
<i style="background:#ee6040"></i>
<i style="background:#f06a45"></i>
<i style="background:#f06a45"></i>
<i style="background:#ec5a3c"></i>
<i style="background:#f06a45"></i>
<i style="background:#ee6040"></i>
<i style="background:#e85538"></i>
<i style="background:#ec5a3c"></i>
<i style="background:#e04535"></i>
<i style="background:#ee6040"></i>
<i style="background:#f06a45"></i>
<i style="background:#f79560"></i>
<i style="background:#ec5a3c"></i>
<i style="background:#ec5a3c"></i>
<i style="background:#ee6040"></i>
<i style="background:#f47e50"></i>
<i style="background:#f47e50"></i>
<i style="background:#f06a45"></i>
<i style="background:#ec5a3c"></i>
<i style="background:#ee6040"></i>
<i style="background:#f58a55"></i>
<i style="background:#f58a55"></i>
<i style="background:#f58a55"></i>
<i style="background:#ee6040"></i>
<i style="background:#ee6040"></i>
</div>
<div style="position:absolute;left:64.78px;top:483.80px;width:0;height:0"><span class="v" style="font-size:6.25px;line-height:7.5px;color:#111">0 μM SSZ</span></div>
<div style="position:absolute;left:74.54px;top:483.80px;width:0;height:0"><span class="v" style="font-size:6.25px;line-height:7.5px;color:#111">50 μM SSZ</span></div>
<div style="position:absolute;left:84.30px;top:483.80px;width:0;height:0"><span class="v" style="font-size:6.25px;line-height:7.5px;color:#111">100 μM SSZ</span></div>
<div style="position:absolute;left:94.06px;top:483.80px;width:0;height:0"><span class="v" style="font-size:6.25px;line-height:7.5px;color:#111">150 μM SSZ</span></div>
<div style="position:absolute;left:103.82px;top:483.80px;width:0;height:0"><span class="v" style="font-size:6.25px;line-height:7.5px;color:#111">200 μM SSZ</span></div>
<div style="position:absolute;left:65.35px;top:520.90px;width:45.30px;height:1px;background:#888"></div>
<div class="t" style="left:-112.95px;width:400px;text-align:center;top:523.82px;font-size:6.3px;line-height:7.56px;color:#2a2a2a;font-weight:normal;font-style:normal;">AML#1</div>
<div style="position:absolute;left:115.00px;top:432.00px;width:48.80px;height:48.40px;display:grid;grid-template-columns:repeat(5,1fr);grid-template-rows:repeat(5,1fr)">
<i style="background:#ec5a3c"></i>
<i style="background:#f06a45"></i>
<i style="background:#f06a45"></i>
<i style="background:#f47e50"></i>
<i style="background:#f58a55"></i>
<i style="background:#ec5a3c"></i>
<i style="background:#f06a45"></i>
<i style="background:#f06a45"></i>
<i style="background:#f47e50"></i>
<i style="background:#f58a55"></i>
<i style="background:#f06a45"></i>
<i style="background:#f06a45"></i>
<i style="background:#f47e50"></i>
<i style="background:#f58a55"></i>
<i style="background:#fcb070"></i>
<i style="background:#f47e50"></i>
<i style="background:#f47e50"></i>
<i style="background:#f79560"></i>
<i style="background:#fbb070"></i>
<i style="background:#fee8a0"></i>
<i style="background:#fef0b8"></i>
<i style="background:#fef4c0"></i>
<i style="background:#fef4c0"></i>
<i style="background:#e4f0f8"></i>
<i style="background:#88b4dc"></i>
</div>
<div style="position:absolute;left:115.93px;top:483.80px;width:0;height:0"><span class="v" style="font-size:6.25px;line-height:7.5px;color:#111">0 μM SSZ</span></div>
<div style="position:absolute;left:125.69px;top:483.80px;width:0;height:0"><span class="v" style="font-size:6.25px;line-height:7.5px;color:#111">50 μM SSZ</span></div>
<div style="position:absolute;left:135.45px;top:483.80px;width:0;height:0"><span class="v" style="font-size:6.25px;line-height:7.5px;color:#111">100 μM SSZ</span></div>
<div style="position:absolute;left:145.21px;top:483.80px;width:0;height:0"><span class="v" style="font-size:6.25px;line-height:7.5px;color:#111">150 μM SSZ</span></div>
<div style="position:absolute;left:154.97px;top:483.80px;width:0;height:0"><span class="v" style="font-size:6.25px;line-height:7.5px;color:#111">200 μM SSZ</span></div>
<div style="position:absolute;left:116.50px;top:520.90px;width:45.30px;height:1px;background:#888"></div>
<div class="t" style="left:-61.80px;width:400px;text-align:center;top:523.82px;font-size:6.3px;line-height:7.56px;color:#2a2a2a;font-weight:normal;font-style:normal;">AML#2</div>
<div style="position:absolute;left:166.15px;top:432.00px;width:48.80px;height:48.40px;display:grid;grid-template-columns:repeat(5,1fr);grid-template-rows:repeat(5,1fr)">
<i style="background:#ec5a3c"></i>
<i style="background:#f47e50"></i>
<i style="background:#f47e50"></i>
<i style="background:#f79560"></i>
<i style="background:#f79560"></i>
<i style="background:#f06a45"></i>
<i style="background:#f47e50"></i>
<i style="background:#f47e50"></i>
<i style="background:#f79560"></i>
<i style="background:#f79560"></i>
<i style="background:#f47e50"></i>
<i style="background:#f58a55"></i>
<i style="background:#ee6040"></i>
<i style="background:#fcb070"></i>
<i style="background:#fcb878"></i>
<i style="background:#f47e50"></i>
<i style="background:#f06a45"></i>
<i style="background:#f58a55"></i>
<i style="background:#fef0b0"></i>
<i style="background:#fef0b0"></i>
<i style="background:#fef4c8"></i>
<i style="background:#f2f4e4"></i>
<i style="background:#f2f4e4"></i>
<i style="background:#c8e0f4"></i>
<i style="background:#b8d4f0"></i>
</div>
<div style="position:absolute;left:167.08px;top:483.80px;width:0;height:0"><span class="v" style="font-size:6.25px;line-height:7.5px;color:#111">0 μM SSZ</span></div>
<div style="position:absolute;left:176.84px;top:483.80px;width:0;height:0"><span class="v" style="font-size:6.25px;line-height:7.5px;color:#111">50 μM SSZ</span></div>
<div style="position:absolute;left:186.60px;top:483.80px;width:0;height:0"><span class="v" style="font-size:6.25px;line-height:7.5px;color:#111">100 μM SSZ</span></div>
<div style="position:absolute;left:196.36px;top:483.80px;width:0;height:0"><span class="v" style="font-size:6.25px;line-height:7.5px;color:#111">150 μM SSZ</span></div>
<div style="position:absolute;left:206.12px;top:483.80px;width:0;height:0"><span class="v" style="font-size:6.25px;line-height:7.5px;color:#111">200 μM SSZ</span></div>
<div style="position:absolute;left:167.65px;top:520.90px;width:45.30px;height:1px;background:#888"></div>
<div class="t" style="left:-10.65px;width:400px;text-align:center;top:523.82px;font-size:6.3px;line-height:7.56px;color:#2a2a2a;font-weight:normal;font-style:normal;">AML#4</div>
<div style="position:absolute;left:217.30px;top:432.00px;width:48.80px;height:48.40px;display:grid;grid-template-columns:repeat(5,1fr);grid-template-rows:repeat(5,1fr)">
<i style="background:#ec5a3c"></i>
<i style="background:#ec5a3c"></i>
<i style="background:#e85538"></i>
<i style="background:#e04535"></i>
<i style="background:#d83028"></i>
<i style="background:#d83028"></i>
<i style="background:#d83028"></i>
<i style="background:#dc3a2c"></i>
<i style="background:#dc3a2c"></i>
<i style="background:#ee6040"></i>
<i style="background:#d83028"></i>
<i style="background:#d83028"></i>
<i style="background:#f06a45"></i>
<i style="background:#f06a45"></i>
<i style="background:#fee8a0"></i>
<i style="background:#dc3a2c"></i>
<i style="background:#e85538"></i>
<i style="background:#b0d0ec"></i>
<i style="background:#eef4e4"></i>
<i style="background:#a8c8e8"></i>
<i style="background:#98c4e8"></i>
<i style="background:#6a9fd0"></i>
<i style="background:#4676b6"></i>
<i style="background:#4676b6"></i>
<i style="background:#4676b6"></i>
</div>
<div style="position:absolute;left:218.23px;top:483.80px;width:0;height:0"><span class="v" style="font-size:6.25px;line-height:7.5px;color:#111">0 μM SSZ</span></div>
<div style="position:absolute;left:227.99px;top:483.80px;width:0;height:0"><span class="v" style="font-size:6.25px;line-height:7.5px;color:#111">50 μM SSZ</span></div>
<div style="position:absolute;left:237.75px;top:483.80px;width:0;height:0"><span class="v" style="font-size:6.25px;line-height:7.5px;color:#111">100 μM SSZ</span></div>
<div style="position:absolute;left:247.51px;top:483.80px;width:0;height:0"><span class="v" style="font-size:6.25px;line-height:7.5px;color:#111">150 μM SSZ</span></div>
<div style="position:absolute;left:257.27px;top:483.80px;width:0;height:0"><span class="v" style="font-size:6.25px;line-height:7.5px;color:#111">200 μM SSZ</span></div>
<div style="position:absolute;left:218.80px;top:520.90px;width:45.30px;height:1px;background:#888"></div>
<div class="t" style="left:40.50px;width:400px;text-align:center;top:523.82px;font-size:6.3px;line-height:7.56px;color:#2a2a2a;font-weight:normal;font-style:normal;">AML#3</div>
<div class="t" style="left:269.10px;top:433.36px;font-size:6.3px;line-height:7.56px;color:#222;font-weight:normal;font-style:normal;">BSO 0 μM</div>
<div class="t" style="left:269.10px;top:443.04px;font-size:6.3px;line-height:7.56px;color:#222;font-weight:normal;font-style:normal;">BSO 1 μM</div>
<div class="t" style="left:269.10px;top:452.72px;font-size:6.3px;line-height:7.56px;color:#222;font-weight:normal;font-style:normal;">BSO 5 μM</div>
<div class="t" style="left:269.10px;top:462.40px;font-size:6.3px;line-height:7.56px;color:#222;font-weight:normal;font-style:normal;">BSO 10 μM</div>
<div class="t" style="left:269.10px;top:472.08px;font-size:6.3px;line-height:7.56px;color:#222;font-weight:normal;font-style:normal;">BSO 50 μM</div>
<div style="position:absolute;left:306.00px;top:424.50px;width:8.4px;height:103.80px;background:linear-gradient(#d73027,#f46d43,#fdae61,#fee090,#ffffbf,#e0f3f8,#abd9e9,#74add1,#4575b4)"></div>
<div class="t" style="left:317.80px;top:430.88px;font-size:6.2px;line-height:7.4399999999999995px;color:#333;font-weight:normal;font-style:normal;">100</div>
<div class="t" style="left:317.80px;top:450.98px;font-size:6.2px;line-height:7.4399999999999995px;color:#333;font-weight:normal;font-style:normal;">80</div>
<div class="t" style="left:317.80px;top:471.38px;font-size:6.2px;line-height:7.4399999999999995px;color:#333;font-weight:normal;font-style:normal;">60</div>
<div class="t" style="left:317.80px;top:491.88px;font-size:6.2px;line-height:7.4399999999999995px;color:#333;font-weight:normal;font-style:normal;">40</div>
<div class="t" style="left:317.80px;top:512.48px;font-size:6.2px;line-height:7.4399999999999995px;color:#333;font-weight:normal;font-style:normal;">20</div>
<div class="t" style="left:336.80px;top:274.61px;font-size:11.8px;line-height:12px;font-weight:bold;color:#000">E</div>
<div class="t" style="left:341.50px;top:289.62px;font-size:5.8px;line-height:6.96px;color:#222;font-weight:normal;font-style:normal;">Rel. Proliferation</div>
<div class="t" style="left:401.30px;top:289.62px;font-size:5.8px;line-height:6.96px;color:#222;font-weight:normal;font-style:normal;">Rel. Viability</div>
<div style="position:absolute;left:342.20px;top:299.50px;width:48.80px;height:48.40px;display:grid;grid-template-columns:repeat(5,1fr);grid-template-rows:repeat(5,1fr)">
<i style="background:#e04535"></i>
<i style="background:#ec5a3c"></i>
<i style="background:#ec5a3c"></i>
<i style="background:#f06a45"></i>
<i style="background:#fbb878"></i>
<i style="background:#ec5a3c"></i>
<i style="background:#ec5a3c"></i>
<i style="background:#ec5a3c"></i>
<i style="background:#f06a45"></i>
<i style="background:#fbb878"></i>
<i style="background:#ec5a3c"></i>
<i style="background:#ec5a3c"></i>
<i style="background:#ec5a3c"></i>
<i style="background:#f06a45"></i>
<i style="background:#fdc888"></i>
<i style="background:#ec5a3c"></i>
<i style="background:#ec5a3c"></i>
<i style="background:#ee6040"></i>
<i style="background:#ef7d50"></i>
<i style="background:#fdd898"></i>
<i style="background:#f9a060"></i>
<i style="background:#f9a870"></i>
<i style="background:#f9a870"></i>
<i style="background:#fdc888"></i>
<i style="background:#fee8b0"></i>
</div>
<div style="position:absolute;left:343.13px;top:351.30px;width:0;height:0"><span class="v" style="font-size:6.25px;line-height:7.5px;color:#111">0 μM SSZ</span></div>
<div style="position:absolute;left:352.89px;top:351.30px;width:0;height:0"><span class="v" style="font-size:6.25px;line-height:7.5px;color:#111">50 μM SSZ</span></div>
<div style="position:absolute;left:362.65px;top:351.30px;width:0;height:0"><span class="v" style="font-size:6.25px;line-height:7.5px;color:#111">100 μM SSZ</span></div>
<div style="position:absolute;left:372.41px;top:351.30px;width:0;height:0"><span class="v" style="font-size:6.25px;line-height:7.5px;color:#111">150 μM SSZ</span></div>
<div style="position:absolute;left:382.17px;top:351.30px;width:0;height:0"><span class="v" style="font-size:6.25px;line-height:7.5px;color:#111">200 μM SSZ</span></div>
<div style="position:absolute;left:343.70px;top:388.70px;width:45.30px;height:1px;background:#888"></div>
<div class="t" style="left:165.40px;width:400px;text-align:center;top:392.72px;font-size:6.3px;line-height:7.56px;color:#2a2a2a;font-weight:normal;font-style:normal;">CB CD34+</div>
<div style="position:absolute;left:401.50px;top:299.50px;width:48.80px;height:48.40px;display:grid;grid-template-columns:repeat(5,1fr);grid-template-rows:repeat(5,1fr)">
<i style="background:#e0402f"></i>
<i style="background:#e0402f"></i>
<i style="background:#e0402f"></i>
<i style="background:#e0402f"></i>
<i style="background:#e85538"></i>
<i style="background:#dc3a2c"></i>
<i style="background:#dc3a2c"></i>
<i style="background:#dc3a2c"></i>
<i style="background:#dc3a2c"></i>
<i style="background:#e85538"></i>
<i style="background:#dc3a2c"></i>
<i style="background:#dc3a2c"></i>
<i style="background:#dc3a2c"></i>
<i style="background:#e04535"></i>
<i style="background:#e85538"></i>
<i style="background:#e04535"></i>
<i style="background:#e04535"></i>
<i style="background:#e04535"></i>
<i style="background:#e04535"></i>
<i style="background:#ec5a3c"></i>
<i style="background:#ec5a3c"></i>
<i style="background:#f06a45"></i>
<i style="background:#f06a45"></i>
<i style="background:#f06a45"></i>
<i style="background:#ef7d50"></i>
</div>
<div style="position:absolute;left:402.43px;top:351.30px;width:0;height:0"><span class="v" style="font-size:6.25px;line-height:7.5px;color:#111">0 μM SSZ</span></div>
<div style="position:absolute;left:412.19px;top:351.30px;width:0;height:0"><span class="v" style="font-size:6.25px;line-height:7.5px;color:#111">50 μM SSZ</span></div>
<div style="position:absolute;left:421.95px;top:351.30px;width:0;height:0"><span class="v" style="font-size:6.25px;line-height:7.5px;color:#111">100 μM SSZ</span></div>
<div style="position:absolute;left:431.71px;top:351.30px;width:0;height:0"><span class="v" style="font-size:6.25px;line-height:7.5px;color:#111">150 μM SSZ</span></div>
<div style="position:absolute;left:441.47px;top:351.30px;width:0;height:0"><span class="v" style="font-size:6.25px;line-height:7.5px;color:#111">200 μM SSZ</span></div>
<div style="position:absolute;left:403.00px;top:388.70px;width:45.30px;height:1px;background:#888"></div>
<div class="t" style="left:224.70px;width:400px;text-align:center;top:392.72px;font-size:6.3px;line-height:7.56px;color:#2a2a2a;font-weight:normal;font-style:normal;">CB CD34+</div>
<div class="t" style="left:453.30px;top:300.86px;font-size:6.3px;line-height:7.56px;color:#222;font-weight:normal;font-style:normal;">BSO 0 μM</div>
<div class="t" style="left:453.30px;top:310.54px;font-size:6.3px;line-height:7.56px;color:#222;font-weight:normal;font-style:normal;">BSO 1 μM</div>
<div class="t" style="left:453.30px;top:320.22px;font-size:6.3px;line-height:7.56px;color:#222;font-weight:normal;font-style:normal;">BSO 5 μM</div>
<div class="t" style="left:453.30px;top:329.90px;font-size:6.3px;line-height:7.56px;color:#222;font-weight:normal;font-style:normal;">BSO 10 μM</div>
<div class="t" style="left:453.30px;top:339.58px;font-size:6.3px;line-height:7.56px;color:#222;font-weight:normal;font-style:normal;">BSO 50 μM</div>
<div style="position:absolute;left:491.00px;top:292.80px;width:8.4px;height:103.70px;background:linear-gradient(#d73027 0%,#f46d43 12%,#fdae61 23%,#fee090 35%,#ffffbf 46%,#e0f3f8 60%,#abd9e9 73%,#74add1 87%,#4575b4 100%)"></div>
<div class="t" style="left:503.50px;top:292.58px;font-size:6.2px;line-height:7.4399999999999995px;color:#333;font-weight:normal;font-style:normal;">100</div>
<div class="t" style="left:503.50px;top:312.48px;font-size:6.2px;line-height:7.4399999999999995px;color:#333;font-weight:normal;font-style:normal;">80</div>
<div class="t" style="left:503.50px;top:331.48px;font-size:6.2px;line-height:7.4399999999999995px;color:#333;font-weight:normal;font-style:normal;">60</div>
<div class="t" style="left:503.50px;top:351.08px;font-size:6.2px;line-height:7.4399999999999995px;color:#333;font-weight:normal;font-style:normal;">40</div>
<div class="t" style="left:503.50px;top:370.38px;font-size:6.2px;line-height:7.4399999999999995px;color:#333;font-weight:normal;font-style:normal;">20</div>
<div class="t" style="left:503.50px;top:390.08px;font-size:6.2px;line-height:7.4399999999999995px;color:#333;font-weight:normal;font-style:normal;">0</div>
<div class="t" style="left:340.30px;top:408.41px;font-size:11.8px;line-height:12px;font-weight:bold;color:#000">F</div>
<svg style="position:absolute;left:0;top:0" width="520" height="669" viewBox="0 0 520 669">
<g stroke="#2a2a2a" stroke-width="1" fill="none">
<line x1="374.8" y1="436.9" x2="374.8" y2="520.3"/>
<line x1="374.8" y1="478.4" x2="498.7" y2="478.4"/>
<line x1="372.1" y1="438.3" x2="374.8" y2="438.3"/><line x1="372.1" y1="458.3" x2="374.8" y2="458.3"/><line x1="372.1" y1="478.4" x2="374.8" y2="478.4"/><line x1="372.1" y1="498.3" x2="374.8" y2="498.3"/><line x1="372.1" y1="518.2" x2="374.8" y2="518.2"/><line x1="402.9" y1="478.4" x2="402.9" y2="480.6"/><line x1="431" y1="478.4" x2="431" y2="480.6"/><line x1="459.1" y1="478.4" x2="459.1" y2="480.6"/><line x1="487.2" y1="478.4" x2="487.2" y2="480.6"/>
</g>
<path d="M374.8,438.3 C376.25,438.42 380.93,438.52 383.50,439.00 C386.07,439.48 388.18,440.47 390.20,441.20 C392.22,441.93 394.25,442.92 395.60,443.40 C396.95,443.88 397.18,443.65 398.30,444.10 C399.42,444.55 400.73,445.08 402.30,446.10 C403.87,447.12 405.90,448.52 407.70,450.20 C409.50,451.88 411.30,453.85 413.10,456.20 C414.90,458.55 416.93,461.83 418.50,464.30 C420.07,466.77 421.17,468.75 422.50,471.00 C423.83,473.25 425.15,475.88 426.50,477.80 C427.85,479.72 429.25,480.72 430.60,482.50 C431.95,484.28 433.03,486.20 434.60,488.50 C436.17,490.80 437.82,493.55 440.00,496.30 C442.18,499.05 445.62,502.92 447.70,505.00 C449.78,507.08 450.90,507.68 452.50,508.80 C454.10,509.92 455.88,511.05 457.30,511.70 C458.72,512.35 459.72,512.45 461.00,512.70 C462.28,512.95 463.05,512.85 465.00,513.20 C466.95,513.55 469.82,514.17 472.70,514.80 C475.58,515.43 480.08,516.53 482.30,517.00 C484.52,517.47 485.38,517.50 486.00,517.60" stroke="#234d7e" stroke-width="1.3" fill="none"/>
<line x1="481.6" y1="502.6" x2="482.5" y2="516.4" stroke="#333" stroke-width="0.6"/>
<line x1="488.5" y1="512" x2="485" y2="516.8" stroke="#333" stroke-width="0.6"/>
</svg>
<div class="t" style="left:-31.30px;width:400px;text-align:right;top:434.70px;font-size:6.0px;line-height:7.199999999999999px;color:#222;font-weight:normal;font-style:normal;">1</div>
<div class="t" style="left:-31.30px;width:400px;text-align:right;top:455.00px;font-size:6.0px;line-height:7.199999999999999px;color:#222;font-weight:normal;font-style:normal;">0.5</div>
<div class="t" style="left:-31.30px;width:400px;text-align:right;top:474.90px;font-size:6.0px;line-height:7.199999999999999px;color:#222;font-weight:normal;font-style:normal;">0</div>
<div class="t" style="left:-31.30px;width:400px;text-align:right;top:494.70px;font-size:6.0px;line-height:7.199999999999999px;color:#222;font-weight:normal;font-style:normal;">−0.5</div>
<div class="t" style="left:-31.30px;width:400px;text-align:right;top:514.60px;font-size:6.0px;line-height:7.199999999999999px;color:#222;font-weight:normal;font-style:normal;">−1</div>
<div class="t" style="left:174.80px;width:400px;text-align:center;top:483.08px;font-size:6.2px;line-height:7.4399999999999995px;color:#222;font-weight:normal;font-style:normal;">0</div>
<div class="t" style="left:202.90px;width:400px;text-align:center;top:483.08px;font-size:6.2px;line-height:7.4399999999999995px;color:#222;font-weight:normal;font-style:normal;">5000</div>
<div class="t" style="left:231.00px;width:400px;text-align:center;top:483.08px;font-size:6.2px;line-height:7.4399999999999995px;color:#222;font-weight:normal;font-style:normal;">10000</div>
<div class="t" style="left:259.10px;width:400px;text-align:center;top:483.08px;font-size:6.2px;line-height:7.4399999999999995px;color:#222;font-weight:normal;font-style:normal;">15000</div>
<div class="t" style="left:287.20px;width:400px;text-align:center;top:483.08px;font-size:6.2px;line-height:7.4399999999999995px;color:#222;font-weight:normal;font-style:normal;">20000</div>
<div style="position:absolute;left:339.1px;top:477.8px;width:0;height:0"><span class="vc" style="font-size:7px;line-height:7px">Pearson</span></div>
<div style="position:absolute;left:348.7px;top:478.8px;width:0;height:0"><span class="vc" style="font-size:7px;line-height:7px">SSZ/BSO sensitivity</span></div>
<div class="t" style="left:231.10px;width:400px;text-align:center;top:517.48px;font-size:7.2px;line-height:8.64px;color:#222;font-weight:normal;font-style:normal;transform:scaleX(0.7);">Genes</div>
<div class="t" style="left:481.40px;top:495.50px;font-size:6px;line-height:7.199999999999999px;color:#222;font-weight:normal;font-style:italic;">MGST1</div>
<div class="t" style="left:488.40px;top:505.80px;font-size:6px;line-height:7.199999999999999px;color:#222;font-weight:normal;font-style:italic;">GPX4</div>
<div class="t" style="left:6.60px;top:540.21px;font-size:11.8px;line-height:12px;font-weight:bold;color:#000">G</div>
<svg style="position:absolute;left:0;top:0" width="520" height="669" viewBox="0 0 520 669"><defs><linearGradient id="rb" x1="0" x2="1" y1="0" y2="0"><stop offset="0" stop-color="#c8101a"/><stop offset="0.12" stop-color="#de2228"/><stop offset="0.38" stop-color="#e44a58"/><stop offset="0.52" stop-color="#f4dbe4"/><stop offset="0.6" stop-color="#c8c4e4"/><stop offset="0.72" stop-color="#4a3f9c"/><stop offset="1" stop-color="#2a1f7c"/></linearGradient><filter id="bl" x="-5%" y="-5%" width="110%" height="110%"><feGaussianBlur stdDeviation="0.35 0"/></filter></defs><g filter="url(#bl)"><rect x="20.30" y="622.8" width="2.00" height="15.60" fill="rgb(110,110,110)"/><rect x="26.70" y="622.8" width="1.10" height="15.60" fill="rgb(110,110,110)"/><rect x="33.30" y="622.8" width="0.90" height="15.60" fill="rgb(130,130,130)"/><rect x="35.00" y="622.8" width="2.00" height="15.60" fill="rgb(120,120,120)"/><rect x="45.30" y="622.8" width="1.60" height="15.60" fill="rgb(160,160,160)"/><rect x="49.80" y="622.8" width="4.20" height="15.60" fill="rgb(150,150,150)"/><rect x="55.20" y="622.8" width="1.10" height="15.60" fill="rgb(165,165,165)"/><rect x="57.50" y="622.8" width="1.50" height="15.60" fill="rgb(170,170,170)"/><rect x="60.20" y="622.8" width="2.60" height="15.60" fill="rgb(110,110,110)"/><rect x="65.20" y="622.8" width="2.60" height="15.60" fill="rgb(90,90,90)"/><rect x="68.20" y="622.8" width="2.30" height="15.60" fill="rgb(95,95,95)"/><rect x="72.50" y="622.8" width="2.30" height="15.60" fill="rgb(185,185,185)"/><rect x="75.50" y="622.8" width="1.50" height="15.60" fill="rgb(150,150,150)"/><rect x="81.30" y="622.8" width="2.70" height="15.60" fill="rgb(80,80,80)"/><rect x="84.00" y="622.8" width="4.60" height="15.60" fill="rgb(150,150,150)"/><rect x="89.40" y="622.8" width="1.50" height="15.60" fill="rgb(25,25,25)"/><rect x="92.80" y="622.8" width="1.60" height="15.60" fill="rgb(50,50,50)"/><rect x="94.80" y="622.8" width="0.70" height="15.60" fill="rgb(130,130,130)"/><rect x="95.90" y="622.8" width="2.30" height="15.60" fill="rgb(100,100,100)"/><rect x="98.60" y="622.8" width="1.60" height="15.60" fill="rgb(40,40,40)"/><rect x="102.50" y="622.8" width="4.50" height="15.60" fill="rgb(25,25,25)"/><rect x="107.00" y="622.8" width="2.40" height="15.60" fill="rgb(60,60,60)"/><rect x="109.40" y="622.8" width="4.60" height="15.60" fill="rgb(35,35,35)"/><rect x="114.40" y="622.8" width="1.90" height="15.60" fill="rgb(90,90,90)"/><rect x="116.70" y="622.8" width="3.80" height="15.60" fill="rgb(35,35,35)"/><rect x="120.50" y="622.8" width="1.10" height="15.60" fill="rgb(110,110,110)"/></g><rect x="20.20" y="638.4" width="101.00" height="4.10" fill="url(#rb)"/><rect x="20.20" y="575.1" width="101.00" height="67.40" fill="none" stroke="#6e6e6e" stroke-width="0.9"/><polyline points="20.50,575.40 26.10,579.40 32.80,584.10 39.50,589.50 46.30,593.50 53.00,596.20 61.10,601.60 66.00,604.50 70.00,606.30 74.30,609.50 78.60,613.30 82.90,616.50 87.20,619.20 89.90,619.70 92.60,619.20 94.80,618.10 96.40,616.50 98.00,616.50 99.60,614.40 101.20,614.40 102.30,614.90 103.90,609.50 106.10,605.80 108.80,602.50 111.40,597.10 113.10,592.30 114.70,586.90 117.40,582.60 119.50,578.30 120.80,575.60" fill="none" stroke="#52a636" stroke-width="1.25" stroke-linejoin="round"/><g filter="url(#bl)"><rect x="152.30" y="622.8" width="2.00" height="15.60" fill="rgb(190,190,190)"/><rect x="154.90" y="622.8" width="1.40" height="15.60" fill="rgb(90,90,90)"/><rect x="157.80" y="622.8" width="1.70" height="15.60" fill="rgb(140,140,140)"/><rect x="161.80" y="622.8" width="2.00" height="15.60" fill="rgb(130,130,130)"/><rect x="164.40" y="622.8" width="2.90" height="15.60" fill="rgb(150,150,150)"/><rect x="167.90" y="622.8" width="1.70" height="15.60" fill="rgb(100,100,100)"/><rect x="169.60" y="622.8" width="2.60" height="15.60" fill="rgb(80,80,80)"/><rect x="173.10" y="622.8" width="2.00" height="15.60" fill="rgb(110,110,110)"/><rect x="176.80" y="622.8" width="2.10" height="15.60" fill="rgb(110,110,110)"/><rect x="179.70" y="622.8" width="3.20" height="15.60" fill="rgb(150,150,150)"/><rect x="185.20" y="622.8" width="2.00" height="15.60" fill="rgb(110,110,110)"/><rect x="187.40" y="622.8" width="1.10" height="15.60" fill="rgb(180,180,180)"/><rect x="188.70" y="622.8" width="1.40" height="15.60" fill="rgb(90,90,90)"/><rect x="191.80" y="622.8" width="2.10" height="15.60" fill="rgb(170,170,170)"/><rect x="194.20" y="622.8" width="1.70" height="15.60" fill="rgb(120,120,120)"/><rect x="196.20" y="622.8" width="1.40" height="15.60" fill="rgb(180,180,180)"/><rect x="197.90" y="622.8" width="2.90" height="15.60" fill="rgb(80,80,80)"/><rect x="202.50" y="622.8" width="4.40" height="15.60" fill="rgb(110,110,110)"/><rect x="208.00" y="622.8" width="2.60" height="15.60" fill="rgb(60,60,60)"/><rect x="210.80" y="622.8" width="1.00" height="15.60" fill="rgb(150,150,150)"/><rect x="212.00" y="622.8" width="1.50" height="15.60" fill="rgb(120,120,120)"/><rect x="213.80" y="622.8" width="3.50" height="15.60" fill="rgb(80,80,80)"/><rect x="217.50" y="622.8" width="1.20" height="15.60" fill="rgb(160,160,160)"/><rect x="220.10" y="622.8" width="1.20" height="15.60" fill="rgb(50,50,50)"/><rect x="223.30" y="622.8" width="1.70" height="15.60" fill="rgb(130,130,130)"/><rect x="225.30" y="622.8" width="3.80" height="15.60" fill="rgb(150,150,150)"/><rect x="230.80" y="622.8" width="2.00" height="15.60" fill="rgb(130,130,130)"/><rect x="234.00" y="622.8" width="1.70" height="15.60" fill="rgb(150,150,150)"/><rect x="235.90" y="622.8" width="2.20" height="15.60" fill="rgb(50,50,50)"/><rect x="238.30" y="622.8" width="1.70" height="15.60" fill="rgb(150,150,150)"/><rect x="240.20" y="622.8" width="1.60" height="15.60" fill="rgb(80,80,80)"/><rect x="242.10" y="622.8" width="2.40" height="15.60" fill="rgb(130,130,130)"/><rect x="244.80" y="622.8" width="3.50" height="15.60" fill="rgb(70,70,70)"/><rect x="248.30" y="622.8" width="1.40" height="15.60" fill="rgb(140,140,140)"/><rect x="249.90" y="622.8" width="1.60" height="15.60" fill="rgb(50,50,50)"/><rect x="252.90" y="622.8" width="1.30" height="15.60" fill="rgb(70,70,70)"/></g><rect x="151.60" y="638.4" width="102.40" height="4.10" fill="url(#rb)"/><rect x="151.60" y="575.1" width="102.40" height="67.40" fill="none" stroke="#6e6e6e" stroke-width="0.9"/><polyline points="151.80,578.30 153.20,579.40 155.90,578.80 157.50,579.90 159.70,581.00 161.80,583.70 164.00,584.80 166.10,585.80 168.80,588.00 171.00,586.40 173.10,585.80 175.30,586.90 177.40,588.00 179.60,588.50 181.20,590.10 182.80,589.10 185.00,591.20 187.10,592.30 189.30,592.80 191.40,593.90 193.60,595.50 196.30,597.10 199.50,598.80 202.00,600.40 205.20,604.10 208.50,608.40 211.70,611.70 214.40,613.30 217.60,614.40 220.80,615.40 223.50,617.10 226.20,617.60 228.40,617.10 230.00,617.60 231.10,619.20 232.10,617.10 233.80,618.10 235.90,618.70 237.50,616.50 239.70,612.20 241.80,606.30 244.00,601.40 245.60,596.60 247.20,592.30 249.40,586.90 251.50,581.50 253.10,577.20 253.70,575.60" fill="none" stroke="#52a636" stroke-width="1.25" stroke-linejoin="round"/><g filter="url(#bl)"><rect x="277.50" y="622.8" width="1.40" height="15.60" fill="rgb(30,30,30)"/><rect x="280.60" y="622.8" width="1.70" height="15.60" fill="rgb(120,120,120)"/><rect x="282.60" y="622.8" width="3.20" height="15.60" fill="rgb(140,140,140)"/><rect x="287.80" y="622.8" width="2.90" height="15.60" fill="rgb(170,170,170)"/><rect x="291.00" y="622.8" width="2.30" height="15.60" fill="rgb(80,80,80)"/><rect x="293.50" y="622.8" width="1.30" height="15.60" fill="rgb(160,160,160)"/><rect x="295.00" y="622.8" width="2.90" height="15.60" fill="rgb(100,100,100)"/><rect x="298.20" y="622.8" width="1.50" height="15.60" fill="rgb(140,140,140)"/><rect x="302.30" y="622.8" width="1.70" height="15.60" fill="rgb(150,150,150)"/><rect x="304.30" y="622.8" width="1.70" height="15.60" fill="rgb(70,70,70)"/><rect x="306.30" y="622.8" width="1.70" height="15.60" fill="rgb(210,210,210)"/><rect x="308.30" y="622.8" width="1.50" height="15.60" fill="rgb(140,140,140)"/><rect x="310.00" y="622.8" width="1.50" height="15.60" fill="rgb(110,110,110)"/><rect x="311.80" y="622.8" width="3.70" height="15.60" fill="rgb(80,80,80)"/><rect x="315.80" y="622.8" width="1.20" height="15.60" fill="rgb(110,110,110)"/><rect x="317.30" y="622.8" width="2.00" height="15.60" fill="rgb(200,200,200)"/><rect x="319.60" y="622.8" width="1.40" height="15.60" fill="rgb(20,20,20)"/><rect x="322.20" y="622.8" width="2.60" height="15.60" fill="rgb(110,110,110)"/><rect x="325.00" y="622.8" width="1.20" height="15.60" fill="rgb(50,50,50)"/><rect x="326.50" y="622.8" width="2.30" height="15.60" fill="rgb(150,150,150)"/><rect x="330.30" y="622.8" width="1.10" height="15.60" fill="rgb(60,60,60)"/><rect x="331.70" y="622.8" width="2.90" height="15.60" fill="rgb(140,140,140)"/><rect x="335.50" y="622.8" width="1.70" height="15.60" fill="rgb(80,80,80)"/><rect x="338.60" y="622.8" width="2.10" height="15.60" fill="rgb(130,130,130)"/><rect x="342.10" y="622.8" width="1.40" height="15.60" fill="rgb(100,100,100)"/><rect x="343.80" y="622.8" width="1.20" height="15.60" fill="rgb(20,20,20)"/><rect x="345.30" y="622.8" width="1.70" height="15.60" fill="rgb(110,110,110)"/><rect x="347.30" y="622.8" width="2.30" height="15.60" fill="rgb(80,80,80)"/><rect x="351.30" y="622.8" width="3.50" height="15.60" fill="rgb(60,60,60)"/><rect x="354.80" y="622.8" width="1.20" height="15.60" fill="rgb(20,20,20)"/><rect x="356.20" y="622.8" width="2.50" height="15.60" fill="rgb(130,130,130)"/><rect x="358.70" y="622.8" width="1.10" height="15.60" fill="rgb(40,40,40)"/><rect x="361.40" y="622.8" width="1.90" height="15.60" fill="rgb(70,70,70)"/><rect x="364.60" y="622.8" width="2.70" height="15.60" fill="rgb(20,20,20)"/><rect x="367.30" y="622.8" width="0.80" height="15.60" fill="rgb(150,150,150)"/><rect x="368.10" y="622.8" width="1.90" height="15.60" fill="rgb(40,40,40)"/><rect x="370.30" y="622.8" width="1.30" height="15.60" fill="rgb(110,110,110)"/><rect x="371.90" y="622.8" width="1.90" height="15.60" fill="rgb(200,200,200)"/><rect x="374.00" y="622.8" width="3.50" height="15.60" fill="rgb(90,90,90)"/><rect x="379.20" y="622.8" width="0.40" height="15.60" fill="rgb(60,60,60)"/></g><rect x="277.40" y="638.4" width="102.40" height="4.10" fill="url(#rb)"/><rect x="277.40" y="575.1" width="102.40" height="67.40" fill="none" stroke="#6e6e6e" stroke-width="0.9"/><polyline points="277.60,579.50 278.60,577.10 280.70,577.60 282.20,577.10 284.30,578.20 286.40,579.70 287.90,581.80 289.50,583.30 291.10,584.40 292.60,583.90 294.20,584.40 296.20,584.90 297.80,584.90 299.40,585.90 300.90,587.50 302.50,590.10 304.00,590.10 305.60,587.50 307.20,588.50 309.20,590.10 311.80,589.60 313.90,588.50 315.50,589.10 317.50,590.60 319.60,592.20 321.70,592.70 323.80,594.20 326.00,596.10 330.30,602.00 334.60,607.90 338.90,613.80 343.20,619.20 344.80,617.60 347.00,617.10 349.10,617.60 350.80,617.10 352.40,618.70 354.00,614.90 356.10,609.50 358.30,607.90 360.40,608.40 362.60,606.80 364.80,605.20 366.40,600.90 366.90,596.60 368.50,595.00 370.10,590.10 371.20,586.90 373.40,585.30 375.50,583.70 377.70,581.50 379.30,578.80" fill="none" stroke="#52a636" stroke-width="1.25" stroke-linejoin="round"/><g filter="url(#bl)"><rect x="400.50" y="622.8" width="1.50" height="15.60" fill="rgb(120,120,120)"/><rect x="414.10" y="622.8" width="0.90" height="15.60" fill="rgb(170,170,170)"/><rect x="416.00" y="622.8" width="1.00" height="15.60" fill="rgb(170,170,170)"/><rect x="435.90" y="622.8" width="0.90" height="15.60" fill="rgb(170,170,170)"/><rect x="437.10" y="622.8" width="0.90" height="15.60" fill="rgb(175,175,175)"/><rect x="443.70" y="622.8" width="0.80" height="15.60" fill="rgb(175,175,175)"/><rect x="444.90" y="622.8" width="0.90" height="15.60" fill="rgb(185,185,185)"/><rect x="452.60" y="622.8" width="0.80" height="15.60" fill="rgb(200,200,200)"/><rect x="465.60" y="622.8" width="1.30" height="15.60" fill="rgb(140,140,140)"/><rect x="468.70" y="622.8" width="1.30" height="15.60" fill="rgb(170,170,170)"/><rect x="480.10" y="622.8" width="1.80" height="15.60" fill="rgb(175,175,175)"/><rect x="485.80" y="622.8" width="1.80" height="15.60" fill="rgb(140,140,140)"/><rect x="490.00" y="622.8" width="1.30" height="15.60" fill="rgb(165,165,165)"/><rect x="493.60" y="622.8" width="1.40" height="15.60" fill="rgb(180,180,180)"/><rect x="500.90" y="622.8" width="1.50" height="15.60" fill="rgb(90,90,90)"/></g><rect x="400.50" y="638.4" width="101.90" height="4.10" fill="url(#rb)"/><rect x="400.50" y="575.1" width="101.90" height="67.40" fill="none" stroke="#6e6e6e" stroke-width="0.9"/><polyline points="400.70,580.30 401.70,576.60 414.60,587.60 415.70,583.40 417.10,577.80 436.40,595.90 437.50,591.70 443.70,598.00 444.70,596.50 453.00,604.50 454.00,603.50 465.50,616.00 466.50,612.70 469.70,614.50 470.70,610.90 480.40,620.70 481.70,615.40 483.00,611.80 486.10,615.40 487.90,604.70 490.10,607.40 491.40,595.90 494.10,598.50 495.40,592.80 498.90,596.30 500.70,591.00 501.60,592.40 502.20,579.10 502.30,576.00" fill="none" stroke="#52a636" stroke-width="1.25" stroke-linejoin="round"/></svg>
<div class="t" style="left:-129.20px;width:400px;text-align:center;top:552.92px;font-size:7.8px;line-height:9.36px;color:#222;font-weight:normal;font-style:normal;">HALLMARK</div>
<div class="t" style="left:-128.90px;width:400px;text-align:center;top:562.42px;font-size:7.8px;line-height:9.36px;color:#222;font-weight:normal;font-style:normal;">Oxidative Phosphorylation</div>
<div class="t" style="left:3.00px;width:400px;text-align:center;top:552.92px;font-size:7.8px;line-height:9.36px;color:#222;font-weight:normal;font-style:normal;">HALLMARK</div>
<div class="t" style="left:3.00px;width:400px;text-align:center;top:562.42px;font-size:7.8px;line-height:9.36px;color:#222;font-weight:normal;font-style:normal;">Fatty Acid Metabolism</div>
<div class="t" style="left:128.60px;width:400px;text-align:center;top:562.32px;font-size:7.9px;line-height:9.48px;color:#222;font-weight:normal;font-style:normal;">Redox</div>
<div class="t" style="left:251.80px;width:400px;text-align:center;top:562.22px;font-size:7.9px;line-height:9.48px;color:#222;font-weight:normal;font-style:normal;">18-gene ferroptosis signature</div>
<div class="t" style="left:21.60px;top:606.97px;font-size:6.05px;line-height:7.26px;color:#222;font-weight:normal;font-style:normal;">NES: −4.20</div>
<div class="t" style="left:21.60px;top:614.29px;font-size:5.85px;line-height:7.02px;color:#222;font-weight:normal;font-style:normal;">FDR q-value: 0.0</div>
<div class="t" style="left:153.10px;top:606.97px;font-size:6.05px;line-height:7.26px;color:#222;font-weight:normal;font-style:normal;">NES: −2.40</div>
<div class="t" style="left:153.10px;top:614.29px;font-size:5.85px;line-height:7.02px;color:#222;font-weight:normal;font-style:normal;">FDR q-value: 0.0</div>
<div class="t" style="left:279.20px;top:606.97px;font-size:6.05px;line-height:7.26px;color:#222;font-weight:normal;font-style:normal;">NES: −2.18</div>
<div class="t" style="left:279.20px;top:614.29px;font-size:5.85px;line-height:7.02px;color:#222;font-weight:normal;font-style:normal;">FDR q-value: 0.0</div>
<div class="t" style="left:402.20px;top:606.97px;font-size:6.05px;line-height:7.26px;color:#222;font-weight:normal;font-style:normal;">NES: −1.74</div>
<div class="t" style="left:402.20px;top:614.29px;font-size:5.85px;line-height:7.02px;color:#222;font-weight:normal;font-style:normal;">FDR q-value: 0.02</div>
<div class="t" style="left:20.30px;top:647.69px;font-size:6.35px;line-height:7.619999999999999px;color:#c8333f;font-weight:normal;font-style:normal;">SSZ/BSO</div>
<div class="t" style="left:20.30px;top:656.12px;font-size:5.8px;line-height:6.96px;color:#c8333f;font-weight:normal;font-style:normal;">sensitive</div>
<div class="t" style="left:-282.70px;width:400px;text-align:right;top:647.69px;font-size:6.35px;line-height:7.619999999999999px;color:#4a5ea8;font-weight:normal;font-style:normal;">SSZ/BSO</div>
<div class="t" style="left:-282.70px;width:400px;text-align:right;top:656.06px;font-size:5.9px;line-height:7.08px;color:#4a5ea8;font-weight:normal;font-style:normal;">insensitive</div>
<div class="t" style="left:151.70px;top:647.69px;font-size:6.35px;line-height:7.619999999999999px;color:#c8333f;font-weight:normal;font-style:normal;">SSZ/BSO</div>
<div class="t" style="left:151.70px;top:656.12px;font-size:5.8px;line-height:6.96px;color:#c8333f;font-weight:normal;font-style:normal;">sensitive</div>
<div class="t" style="left:-149.90px;width:400px;text-align:right;top:647.69px;font-size:6.35px;line-height:7.619999999999999px;color:#4a5ea8;font-weight:normal;font-style:normal;">SSZ/BSO</div>
<div class="t" style="left:-149.90px;width:400px;text-align:right;top:656.06px;font-size:5.9px;line-height:7.08px;color:#4a5ea8;font-weight:normal;font-style:normal;">insensitive</div>
<div class="t" style="left:277.50px;top:647.69px;font-size:6.35px;line-height:7.619999999999999px;color:#c8333f;font-weight:normal;font-style:normal;">SSZ/BSO</div>
<div class="t" style="left:277.50px;top:656.12px;font-size:5.8px;line-height:6.96px;color:#c8333f;font-weight:normal;font-style:normal;">sensitive</div>
<div class="t" style="left:-24.10px;width:400px;text-align:right;top:647.69px;font-size:6.35px;line-height:7.619999999999999px;color:#4a5ea8;font-weight:normal;font-style:normal;">SSZ/BSO</div>
<div class="t" style="left:-24.10px;width:400px;text-align:right;top:656.06px;font-size:5.9px;line-height:7.08px;color:#4a5ea8;font-weight:normal;font-style:normal;">insensitive</div>
<div class="t" style="left:400.60px;top:647.69px;font-size:6.35px;line-height:7.619999999999999px;color:#c8333f;font-weight:normal;font-style:normal;">SSZ/BSO</div>
<div class="t" style="left:400.60px;top:656.12px;font-size:5.8px;line-height:6.96px;color:#c8333f;font-weight:normal;font-style:normal;">sensitive</div>
<div class="t" style="left:98.50px;width:400px;text-align:right;top:647.69px;font-size:6.35px;line-height:7.619999999999999px;color:#4a5ea8;font-weight:normal;font-style:normal;">SSZ/BSO</div>
<div class="t" style="left:98.50px;width:400px;text-align:right;top:656.06px;font-size:5.9px;line-height:7.08px;color:#4a5ea8;font-weight:normal;font-style:normal;">insensitive</div>
<div style="position:absolute;left:0;top:0;width:518px;height:667px;border:1px solid #666"></div>
</div></body></html>
